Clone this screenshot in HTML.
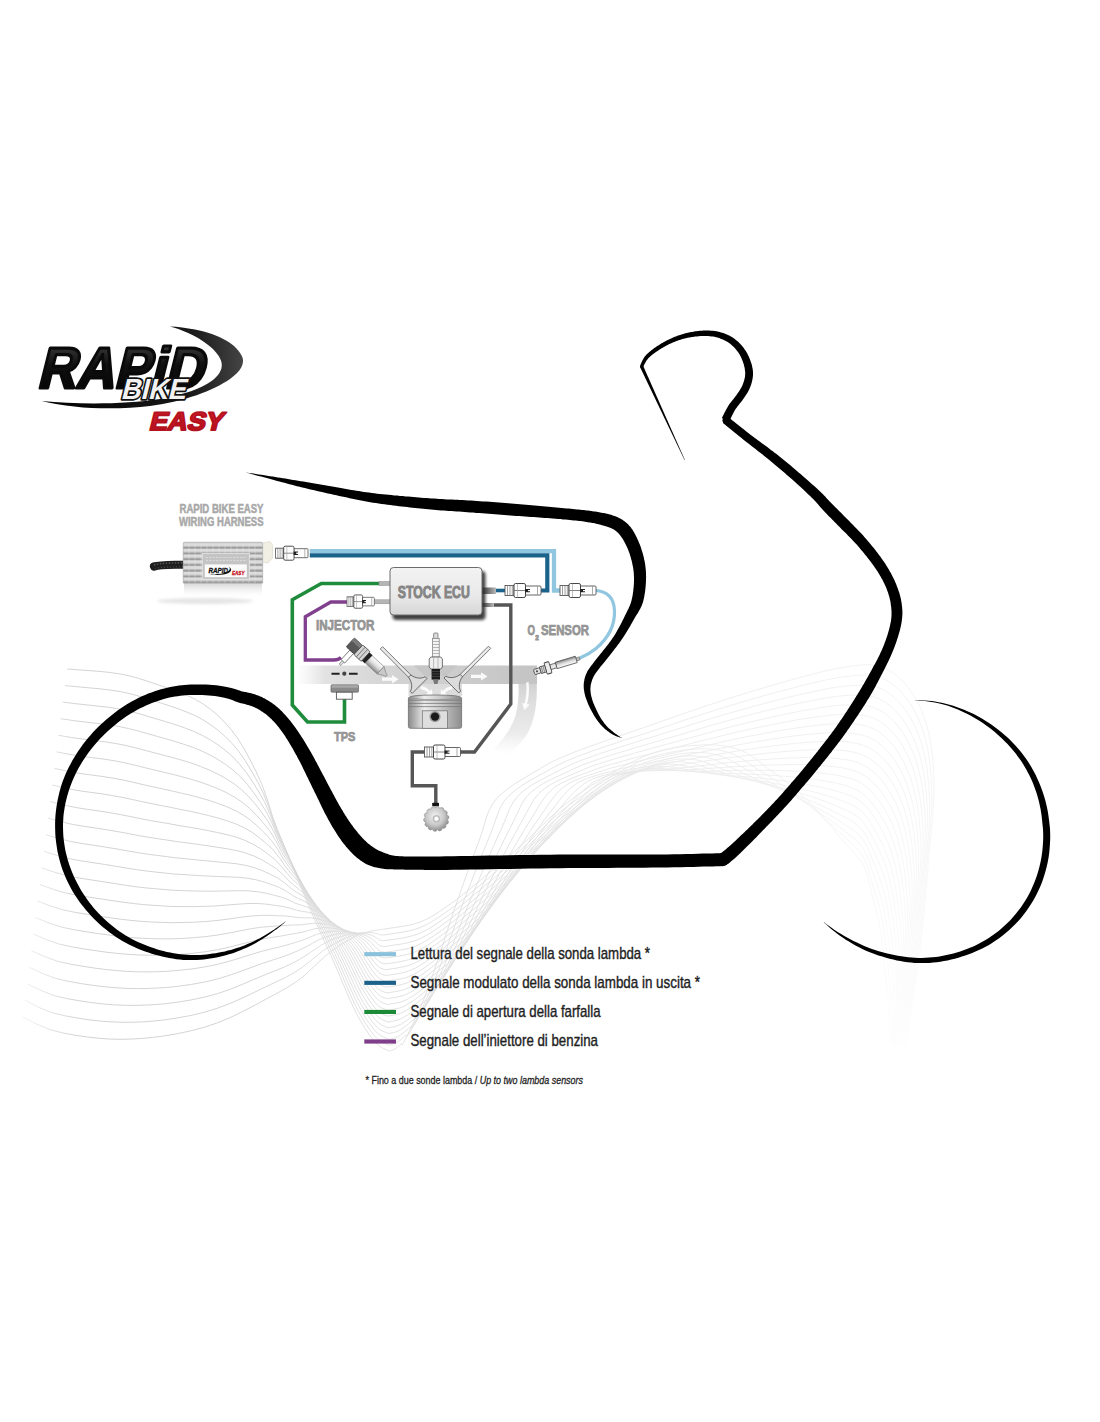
<!DOCTYPE html>
<html><head><meta charset="utf-8"><title>Rapid Bike Easy wiring</title>
<style>
html,body{margin:0;padding:0;background:#fff}
body{width:1100px;height:1422px;overflow:hidden;font-family:"Liberation Sans",sans-serif}
svg{display:block}
text{font-family:"Liberation Sans",sans-serif}
</style></head><body>
<svg width="1100" height="1422" viewBox="0 0 1100 1422">
<rect width="1100" height="1422" fill="#fff"/>
<defs><linearGradient id="wfade" gradientUnits="userSpaceOnUse" x1="0" y1="0" x2="1100" y2="0"><stop offset="0" stop-color="#fff" stop-opacity="1"/><stop offset="0.07" stop-color="#fff" stop-opacity="0"/><stop offset="0.227" stop-color="#fff" stop-opacity="0.04"/><stop offset="0.3" stop-color="#fff" stop-opacity="0.3"/><stop offset="0.45" stop-color="#fff" stop-opacity="0.36"/><stop offset="0.62" stop-color="#fff" stop-opacity="0.6"/><stop offset="1" stop-color="#fff" stop-opacity="0.85"/></linearGradient></defs>
<g fill="none" stroke="#cecece" stroke-width="0.9">
<path d="M67.0,669.0L79.0,669.9L90.6,670.7L101.8,671.6L112.6,672.8L123.2,674.5L133.3,676.8L143.2,679.8L152.7,683.0L161.9,686.1L170.8,689.1L179.4,692.2L187.7,695.6L195.7,699.5L203.4,704.2L210.8,709.5L218.0,715.6L224.9,722.4L231.6,730.2L238.1,739.0L244.3,749.0L250.2,759.9L256.0,771.4L261.5,783.5L266.9,798.2L272.0,814.8L277.0,828.5L281.8,840.1L286.4,851.1L290.8,862.0L295.1,872.7L299.3,883.0L303.3,892.9L307.1,902.2L310.9,911.0L314.5,919.3L318.0,927.1L321.4,934.7L324.7,941.9L327.9,949.0L331.1,955.9L334.1,962.8L337.2,969.7L340.1,976.6L343.0,983.5L345.9,990.4L348.7,997.0L351.5,1003.3L354.3,1009.2L357.0,1014.7L359.8,1019.7L362.6,1024.5L365.4,1028.9L368.2,1033.1L371.0,1037.0L373.9,1040.6L376.8,1043.9L379.7,1046.3L382.8,1048.1L385.8,1049.5L389.0,1051.0L389.3,1050.9L389.7,1050.8L390.2,1050.7L390.8,1050.5L391.3,1050.4L391.9,1050.2L392.5,1050.0L393.0,1049.8L393.5,1049.6L394.0,1049.3L394.5,1049.1L395.0,1048.8L395.5,1048.5L396.0,1048.2L396.5,1047.9L397.0,1047.5L397.5,1047.1L398.0,1046.7L398.5,1046.3L399.0,1045.9L399.5,1045.4L400.0,1044.9L400.5,1044.5L401.0,1044.0L401.4,1043.8L401.6,1044.1L401.7,1044.5L401.9,1044.8L402.2,1044.8L402.7,1044.2L403.6,1042.7L405.0,1040.0L406.9,1036.3L409.1,1031.7L411.7,1026.4L414.5,1020.4L417.6,1013.8L420.7,1006.6L423.9,999.0L427.0,991.0L430.2,982.2L433.6,972.5L437.0,962.1L440.6,951.2L444.2,940.2L447.7,929.3L451.2,918.8L454.5,909.0L457.8,899.6L461.0,890.4L464.3,881.3L467.4,872.4L470.5,863.9L473.5,855.8L476.3,848.1L479.0,841.0L481.3,834.5L483.1,828.6L484.7,823.1L486.2,818.1L487.9,813.3L489.9,808.8L492.3,804.4L495.5,800.0L499.4,795.7L504.0,791.7L509.1,787.8L514.5,784.1L520.0,780.6L525.6,777.2L530.9,774.0L536.0,771.0L540.5,768.3L544.7,765.8L548.6,763.7L552.5,761.6L556.7,759.6L561.3,757.5L566.7,755.3L573.0,752.7L580.4,749.8L588.6,746.8L597.6,743.6L607.0,740.3L616.8,736.9L626.5,733.5L636.2,730.2L645.5,727.0L654.6,723.8L663.6,720.6L672.7,717.4L681.7,714.3L690.8,711.1L699.8,708.0L708.9,705.0L718.0,702.0L727.2,699.0L736.6,696.1L746.2,693.1L755.6,690.2L765.0,687.5L774.0,684.8L782.8,682.3L791.0,680.0L798.8,677.9L806.3,675.8L813.6,673.9L820.5,672.1L827.2,670.5L833.6,669.1L839.7,667.9L845.5,667.0L851.0,666.2L856.1,665.5L860.9,665.0L865.4,664.8L869.7,664.7L873.9,665.1L878.0,665.8L882.0,667.0L886.0,668.7L889.8,670.7L893.6,673.2L897.2,676.0L900.6,679.1L903.9,682.5L907.0,686.2L910.0,690.0L912.8,694.1L915.5,698.4L918.0,703.1L920.4,708.0L922.6,713.1L924.6,718.5L926.4,724.1L928.0,730.0L929.4,736.1L930.6,742.4L931.6,749.0L932.4,755.8L933.1,762.9L933.6,770.2L933.9,777.7L934.0,785.5L933.9,793.4L933.6,801.5L933.1,809.8L932.4,818.3L931.7,827.1L930.8,836.3L929.9,845.9L929.0,856.0L928.1,866.7L927.2,878.1L926.2,889.9L925.1,902.0L924.0,914.4L922.7,926.7L921.4,939.0L920.0,951.0L918.4,963.4L916.4,976.8L914.3,990.5L912.2,1003.9L910.1,1016.7L908.2,1028.1L906.7,1037.8L905.5,1045.0"/>
<path d="M64.9,685.6L76.9,686.7L88.6,687.8L99.9,688.8L110.9,690.1L121.5,691.8L131.7,694.1L141.6,696.9L151.2,699.9L160.5,702.9L169.4,705.8L178.1,708.7L186.4,711.9L194.7,715.4L202.7,719.7L210.5,724.7L218.0,730.2L225.2,736.5L232.2,743.6L238.9,751.6L245.3,760.8L251.5,771.0L257.5,781.7L263.2,793.0L268.7,806.6L273.9,822.2L279.0,834.9L283.8,845.7L288.5,855.9L293.0,866.1L297.3,876.2L301.4,885.8L305.4,895.1L309.3,903.9L313.0,912.2L316.6,920.0L320.0,927.4L323.4,934.6L326.7,941.5L329.8,948.2L332.9,954.8L335.9,961.3L338.8,967.8L341.7,974.4L344.5,981.0L347.3,987.5L350.0,993.8L352.7,999.8L355.4,1005.4L358.1,1010.6L360.7,1015.4L363.4,1020.0L366.0,1024.2L368.7,1028.2L371.4,1031.9L374.2,1035.4L377.0,1038.4L379.8,1040.7L382.7,1042.4L385.7,1043.8L388.8,1045.2L389.2,1045.1L389.8,1045.0L390.5,1044.8L391.2,1044.6L392.0,1044.5L392.8,1044.2L393.6,1044.0L394.3,1043.7L395.0,1043.4L395.6,1043.1L396.3,1042.8L396.9,1042.4L397.6,1042.0L398.3,1041.6L398.9,1041.1L399.6,1040.6L400.3,1040.1L401.0,1039.5L401.8,1038.9L402.5,1038.3L403.2,1037.7L403.9,1037.0L404.7,1036.4L405.4,1035.7L405.9,1035.4L406.3,1035.4L406.6,1035.7L407.0,1035.8L407.5,1035.6L408.2,1034.9L409.3,1033.2L410.8,1030.5L412.8,1026.7L415.2,1022.1L417.9,1016.8L420.9,1010.8L424.1,1004.2L427.4,997.2L430.7,989.6L434.0,981.8L437.4,973.2L441.1,963.6L444.8,953.4L448.6,942.8L452.5,932.0L456.3,921.4L460.0,911.2L463.6,901.7L467.0,892.7L470.5,883.7L473.9,875.0L477.3,866.5L480.6,858.3L483.7,850.5L486.7,843.2L489.5,836.4L492.0,830.2L494.0,824.6L495.8,819.4L497.5,814.6L499.3,810.1L501.4,805.8L503.9,801.7L507.1,797.6L511.1,793.6L515.7,789.9L520.7,786.3L526.0,782.9L531.4,779.7L536.9,776.6L542.2,773.7L547.1,771.0L551.6,768.4L555.7,766.2L559.5,764.3L563.4,762.4L567.5,760.6L572.0,758.7L577.3,756.6L583.4,754.3L590.5,751.6L598.5,748.8L607.1,745.9L616.3,742.8L625.6,739.7L635.1,736.6L644.4,733.6L653.3,730.6L662.1,727.7L670.8,724.8L679.5,721.8L688.2,718.9L697.0,716.1L705.7,713.2L714.4,710.4L723.2,707.7L732.1,705.0L741.2,702.3L750.3,699.6L759.4,697.0L768.4,694.5L777.2,692.1L785.6,689.8L793.6,687.8L801.1,685.8L808.4,684.0L815.4,682.3L822.2,680.8L828.6,679.4L834.8,678.2L840.7,677.2L846.4,676.5L851.7,675.9L856.6,675.4L861.2,675.1L865.6,675.0L869.7,675.2L873.7,675.7L877.6,676.5L881.5,677.9L885.4,679.6L889.1,681.8L892.7,684.3L896.2,687.2L899.5,690.3L902.7,693.8L905.7,697.4L908.6,701.3L911.3,705.4L913.9,709.7L916.3,714.3L918.6,719.2L920.7,724.3L922.6,729.6L924.4,735.2L925.9,741.0L927.3,747.0L928.4,753.3L929.4,759.8L930.2,766.5L930.9,773.5L931.3,780.7L931.7,788.0L931.8,795.6L931.8,803.3L931.5,811.1L931.0,819.1L930.4,827.3L929.6,835.8L928.8,844.6L927.9,853.9L927.1,863.6L926.2,873.9L925.4,884.8L924.4,896.1L923.4,907.8L922.3,919.6L921.2,931.5L919.9,943.2L918.6,954.8L917.0,966.7L915.2,979.5L913.2,992.6L911.2,1005.6L909.2,1017.8L907.4,1028.8L905.9,1038.0L904.8,1045.0"/>
<path d="M62.8,702.1L74.9,703.6L86.7,704.9L98.1,706.1L109.1,707.3L119.8,709.1L130.1,711.3L140.1,714.0L149.7,716.9L159.1,719.7L168.1,722.4L176.8,725.1L185.2,728.1L193.7,731.4L202.1,735.3L210.2,739.8L218.0,744.8L225.5,750.5L232.8,756.9L239.7,764.3L246.4,772.7L252.8,782.1L258.9,792.0L264.8,802.4L270.4,815.1L275.8,829.5L280.9,841.3L285.9,851.2L290.6,860.7L295.1,870.2L299.4,879.6L303.6,888.7L307.6,897.4L311.4,905.6L315.1,913.4L318.7,920.8L322.1,927.8L325.4,934.5L328.6,941.0L331.7,947.4L334.7,953.6L337.7,959.8L340.5,966.0L343.3,972.2L346.0,978.5L348.7,984.6L351.4,990.6L354.0,996.3L356.5,1001.7L359.1,1006.6L361.6,1011.2L364.2,1015.4L366.7,1019.5L369.3,1023.2L371.9,1026.8L374.5,1030.1L377.2,1033.0L379.9,1035.1L382.7,1036.8L385.6,1038.1L388.6,1039.4L389.2,1039.3L389.9,1039.1L390.7,1038.9L391.7,1038.7L392.7,1038.5L393.7,1038.3L394.7,1038.0L395.6,1037.6L396.4,1037.3L397.2,1036.9L398.0,1036.4L398.9,1036.0L399.7,1035.5L400.5,1034.9L401.3,1034.4L402.2,1033.7L403.1,1033.1L404.1,1032.3L405.0,1031.6L406.0,1030.7L406.9,1029.9L407.9,1029.1L408.8,1028.2L409.7,1027.4L410.5,1026.9L411.1,1026.8L411.6,1026.9L412.1,1026.8L412.8,1026.5L413.7,1025.5L414.9,1023.8L416.6,1021.0L418.8,1017.1L421.3,1012.5L424.2,1007.2L427.3,1001.2L430.6,994.7L434.0,987.7L437.5,980.3L441.1,972.5L444.7,964.1L448.5,954.7L452.6,944.7L456.7,934.4L460.8,923.9L464.9,913.6L468.8,903.7L472.6,894.4L476.3,885.7L480.0,877.1L483.6,868.7L487.1,860.6L490.6,852.7L493.9,845.3L497.1,838.3L500.0,831.9L502.7,826.0L504.9,820.6L506.8,815.7L508.7,811.2L510.6,806.9L512.8,802.9L515.5,799.1L518.8,795.2L522.8,791.5L527.3,788.1L532.3,784.8L537.5,781.7L542.9,778.8L548.2,776.0L553.4,773.4L558.3,770.9L562.7,768.6L566.7,766.6L570.5,764.9L574.3,763.2L578.3,761.5L582.7,759.8L587.8,758.0L593.8,755.8L600.7,753.4L608.4,750.9L616.7,748.2L625.5,745.4L634.5,742.6L643.6,739.7L652.5,736.9L661.2,734.2L669.6,731.6L678.0,728.9L686.4,726.3L694.8,723.6L703.1,721.0L711.5,718.4L720.0,715.9L728.4,713.4L736.9,711.0L745.7,708.6L754.5,706.1L763.3,703.8L771.9,701.5L780.4,699.3L788.5,697.3L796.1,695.5L803.4,693.8L810.5,692.2L817.3,690.8L823.8,689.4L830.1,688.2L836.1,687.2L841.8,686.5L847.2,685.9L852.3,685.5L857.1,685.2L861.5,685.1L865.7,685.2L869.7,685.6L873.5,686.2L877.3,687.3L881.0,688.7L884.7,690.6L888.3,692.8L891.8,695.4L895.2,698.4L898.4,701.6L901.5,705.0L904.4,708.7L907.1,712.6L909.8,716.6L912.2,721.0L914.6,725.6L916.7,730.4L918.8,735.4L920.6,740.7L922.3,746.2L923.8,751.9L925.1,757.9L926.3,764.1L927.2,770.5L928.0,777.2L928.7,784.1L929.1,791.1L929.5,798.4L929.6,805.7L929.6,813.2L929.3,820.8L928.9,828.5L928.3,836.3L927.6,844.5L926.8,853.0L926.0,861.8L925.2,871.1L924.4,881.0L923.5,891.5L922.7,902.3L921.7,913.5L920.7,924.9L919.6,936.2L918.4,947.5L917.1,958.5L915.7,970.0L913.9,982.2L912.1,994.8L910.1,1007.2L908.3,1018.9L906.6,1029.5L905.2,1038.3L904.1,1045.0"/>
<path d="M60.7,718.7L72.9,720.5L84.7,722.0L96.2,723.3L107.3,724.6L118.0,726.3L128.4,728.5L138.5,731.1L148.2,733.9L157.7,736.5L166.7,739.0L175.5,741.6L184.0,744.3L192.8,747.3L201.4,750.9L209.8,754.9L218.0,759.5L225.8,764.6L233.3,770.3L240.6,776.9L247.5,784.6L254.1,793.2L260.4,802.4L266.4,811.9L272.2,823.6L277.7,836.8L282.9,847.6L287.9,856.8L292.7,865.5L297.2,874.3L301.6,883.1L305.7,891.5L309.7,899.6L313.6,907.3L317.2,914.6L320.8,921.5L324.2,928.1L327.4,934.4L330.6,940.6L333.6,946.6L336.6,952.5L339.4,958.3L342.2,964.1L344.9,970.0L347.6,975.9L350.2,981.8L352.7,987.4L355.2,992.8L357.7,997.9L360.1,1002.5L362.5,1006.9L365.0,1010.9L367.4,1014.7L369.9,1018.3L372.3,1021.7L374.8,1024.8L377.4,1027.5L380.0,1029.6L382.7,1031.1L385.5,1032.3L388.4,1033.6L389.1,1033.4L390.0,1033.3L391.0,1033.1L392.1,1032.9L393.4,1032.6L394.6,1032.3L395.8,1031.9L396.9,1031.5L397.9,1031.1L398.9,1030.6L399.8,1030.1L400.8,1029.6L401.8,1029.0L402.8,1028.3L403.8,1027.6L404.8,1026.9L405.9,1026.0L407.1,1025.1L408.3,1024.2L409.4,1023.2L410.6,1022.2L411.8,1021.1L413.0,1020.1L414.1,1019.1L415.1,1018.5L415.8,1018.2L416.5,1018.0L417.2,1017.8L418.1,1017.3L419.2,1016.2L420.6,1014.3L422.4,1011.4L424.8,1007.5L427.4,1002.9L430.4,997.6L433.7,991.6L437.1,985.2L440.7,978.2L444.4,970.9L448.1,963.3L451.9,955.0L456.0,945.8L460.3,936.1L464.7,925.9L469.1,915.7L473.5,905.7L477.7,896.1L481.7,887.1L485.6,878.7L489.5,870.4L493.3,862.4L497.0,854.6L500.6,847.2L504.1,840.1L507.4,833.4L510.6,827.3L513.4,821.7L515.7,816.6L517.8,812.0L519.9,807.7L522.0,803.7L524.3,800.0L527.1,796.4L530.4,792.9L534.4,789.5L538.9,786.3L543.8,783.3L549.0,780.5L554.3,777.9L559.5,775.5L564.6,773.1L569.4,770.9L573.8,768.8L577.7,767.0L581.4,765.4L585.2,764.0L589.1,762.5L593.4,761.0L598.4,759.3L604.1,757.4L610.8,755.2L618.2,752.9L626.3,750.5L634.7,747.9L643.4,745.4L652.1,742.8L660.7,740.3L669.0,737.9L677.1,735.5L685.1,733.1L693.2,730.7L701.3,728.3L709.3,725.9L717.4,723.6L725.5,721.3L733.6,719.1L741.8,717.0L750.2,714.8L758.7,712.6L767.1,710.5L775.4,708.5L783.5,706.6L791.3,704.9L798.7,703.3L805.8,701.8L812.6,700.5L819.1,699.2L825.4,698.1L831.5,697.1L837.3,696.3L842.8,695.7L848.1,695.4L853.0,695.2L857.6,695.1L861.8,695.2L865.8,695.5L869.7,696.0L873.4,696.8L877.0,698.0L880.6,699.6L884.1,701.5L887.6,703.9L890.9,706.6L894.2,709.5L897.3,712.8L900.2,716.3L903.1,720.0L905.7,723.9L908.2,727.9L910.6,732.2L912.8,736.8L914.9,741.6L916.9,746.6L918.7,751.8L920.3,757.2L921.7,762.9L923.0,768.7L924.1,774.9L925.0,781.3L925.8,787.9L926.5,794.6L926.9,801.6L927.3,808.7L927.4,815.9L927.4,823.1L927.2,830.4L926.7,837.8L926.2,845.4L925.5,853.2L924.8,861.3L924.0,869.8L923.3,878.7L922.5,888.2L921.7,898.2L920.9,908.6L920.0,919.3L919.0,930.1L918.0,941.0L916.9,951.7L915.7,962.3L914.3,973.2L912.7,985.0L910.9,997.0L909.1,1008.9L907.3,1020.1L905.7,1030.2L904.4,1038.6L903.4,1045.0"/>
<path d="M58.6,735.3L70.9,737.4L82.8,739.1L94.3,740.5L105.5,741.9L116.3,743.6L126.8,745.7L137.0,748.2L146.8,750.8L156.2,753.3L165.4,755.7L174.3,758.0L182.8,760.5L191.8,763.2L200.7,766.5L209.5,770.1L217.9,774.1L226.1,778.6L233.9,783.7L241.4,789.6L248.6,796.5L255.4,804.3L261.9,812.7L268.1,821.3L274.0,832.0L279.5,844.2L284.9,854.0L289.9,862.3L294.8,870.3L299.3,878.4L303.7,886.5L307.9,894.3L311.9,901.9L315.7,909.0L319.3,915.8L322.8,922.2L326.2,928.4L329.4,934.3L332.5,940.1L335.5,945.8L338.4,951.3L341.2,956.8L343.9,962.3L346.5,967.9L349.1,973.4L351.6,978.9L354.0,984.2L356.4,989.3L358.8,994.1L361.1,998.5L363.4,1002.6L365.8,1006.4L368.1,1010.0L370.4,1013.4L372.8,1016.5L375.2,1019.5L377.6,1022.1L380.1,1024.0L382.7,1025.5L385.4,1026.6L388.2,1027.8L389.0,1027.6L390.0,1027.4L391.3,1027.2L392.6,1027.0L394.0,1026.7L395.5,1026.3L396.9,1025.9L398.1,1025.5L399.3,1024.9L400.5,1024.4L401.6,1023.8L402.7,1023.1L403.9,1022.4L405.0,1021.7L406.2,1020.9L407.4,1020.0L408.7,1019.0L410.1,1017.9L411.5,1016.8L412.9,1015.6L414.3,1014.4L415.8,1013.2L417.1,1012.0L418.5,1010.9L419.6,1010.0L420.6,1009.5L421.5,1009.2L422.4,1008.8L423.4,1008.1L424.6,1006.9L426.2,1004.9L428.2,1001.9L430.7,998.0L433.5,993.3L436.7,988.0L440.1,982.1L443.6,975.6L447.4,968.8L451.2,961.6L455.1,954.0L459.2,945.9L463.5,937.0L468.1,927.4L472.7,917.5L477.4,907.6L482.0,897.8L486.5,888.5L490.8,879.9L494.9,871.7L499.0,863.8L503.0,856.1L506.9,848.7L510.6,841.6L514.3,834.8L517.8,828.5L521.1,822.7L524.0,817.4L526.6,812.6L528.9,808.2L531.1,804.3L533.3,800.6L535.8,797.1L538.7,793.7L542.1,790.5L546.1,787.4L550.6,784.5L555.4,781.8L560.5,779.4L565.7,777.1L570.9,774.9L575.9,772.8L580.6,770.8L584.8,769.0L588.7,767.4L592.4,766.0L596.1,764.7L599.9,763.5L604.1,762.1L609.0,760.6L614.5,758.9L621.0,757.0L628.1,755.0L635.8,752.8L643.9,750.5L652.2,748.2L660.6,745.9L668.9,743.7L676.8,741.5L684.6,739.3L692.3,737.2L700.1,735.1L707.8,732.9L715.5,730.8L723.2,728.8L731.0,726.8L738.8,724.9L746.7,722.9L754.7,721.0L762.8,719.1L770.9,717.3L778.9,715.5L786.7,713.9L794.2,712.4L801.3,711.0L808.1,709.8L814.6,708.7L821.0,707.6L827.1,706.7L832.9,705.9L838.5,705.4L843.9,705.0L848.9,704.8L853.7,704.8L858.1,704.9L862.1,705.2L866.0,705.7L869.7,706.4L873.2,707.4L876.6,708.7L880.1,710.4L883.5,712.5L886.8,714.9L890.1,717.7L893.2,720.7L896.2,724.0L899.0,727.5L901.7,731.3L904.3,735.1L906.7,739.2L909.0,743.5L911.1,748.0L913.1,752.8L915.0,757.7L916.7,762.9L918.2,768.2L919.6,773.8L920.9,779.6L921.9,785.7L922.9,792.0L923.6,798.5L924.3,805.2L924.7,812.0L925.1,819.0L925.2,826.0L925.2,833.0L925.0,840.0L924.6,847.1L924.1,854.4L923.5,861.9L922.8,869.6L922.1,877.8L921.4,886.3L920.7,895.3L919.9,904.9L919.2,914.8L918.3,925.0L917.4,935.3L916.4,945.7L915.4,956.0L914.3,966.0L913.0,976.5L911.4,987.7L909.8,999.2L908.1,1010.5L906.4,1021.2L904.9,1030.8L903.7,1038.9L902.7,1045.0"/>
<path d="M56.5,751.9L68.9,754.2L80.9,756.2L92.5,757.7L103.7,759.1L114.6,760.8L125.2,762.9L135.4,765.3L145.3,767.8L154.8,770.1L164.1,772.3L173.0,774.4L181.6,776.7L190.8,779.2L200.1,782.0L209.1,785.2L217.9,788.7L226.4,792.6L234.5,797.1L242.2,802.2L249.6,808.4L256.7,815.4L263.4,823.0L269.7,830.8L275.7,840.5L281.4,851.5L286.8,860.4L292.0,867.9L296.8,875.1L301.5,882.6L305.9,889.9L310.1,897.2L314.0,904.1L317.8,910.7L321.5,917.0L324.9,923.0L328.3,928.7L331.4,934.2L334.5,939.6L337.4,944.9L340.2,950.1L343.0,955.3L345.6,960.4L348.1,965.7L350.6,970.9L353.0,976.0L355.4,981.0L357.7,985.8L359.9,990.3L362.1,994.5L364.4,998.3L366.6,1001.9L368.8,1005.3L371.0,1008.5L373.2,1011.4L375.5,1014.2L377.8,1016.6L380.2,1018.4L382.7,1019.8L385.3,1020.9L388.0,1022.0L388.9,1021.8L390.1,1021.6L391.5,1021.3L393.1,1021.1L394.7,1020.7L396.4,1020.3L398.0,1019.9L399.4,1019.4L400.8,1018.8L402.1,1018.2L403.4,1017.5L404.7,1016.7L405.9,1015.9L407.3,1015.0L408.6,1014.1L410.0,1013.1L411.6,1012.0L413.1,1010.8L414.8,1009.4L416.4,1008.1L418.1,1006.7L419.7,1005.3L421.3,1003.9L422.8,1002.6L424.2,1001.5L425.4,1000.9L426.4,1000.4L427.5,999.8L428.7,998.9L430.1,997.5L431.8,995.4L434.0,992.4L436.7,988.4L439.7,983.7L442.9,978.4L446.4,972.5L450.2,966.1L454.0,959.3L458.1,952.2L462.1,944.8L466.4,936.8L471.0,928.1L475.8,918.7L480.8,909.1L485.7,899.4L490.6,890.0L495.4,880.9L499.9,872.6L504.2,864.7L508.4,857.1L512.6,849.8L516.7,842.7L520.7,836.0L524.5,829.6L528.2,823.7L531.6,818.1L534.7,813.1L537.4,808.6L539.9,804.5L542.3,800.8L544.7,797.4L547.3,794.1L550.3,791.1L553.7,788.1L557.7,785.3L562.2,782.7L567.0,780.4L572.0,778.2L577.1,776.2L582.2,774.3L587.1,772.5L591.7,770.8L595.9,769.2L599.7,767.8L603.3,766.6L606.9,765.5L610.7,764.4L614.9,763.3L619.5,762.0L624.9,760.5L631.1,758.8L638.0,757.0L645.4,755.1L653.2,753.1L661.1,751.0L669.1,749.0L677.0,747.0L684.7,745.1L692.1,743.2L699.5,741.3L706.9,739.5L714.3,737.6L721.7,735.8L729.1,734.0L736.5,732.2L744.0,730.6L751.5,728.9L759.2,727.3L767.0,725.6L774.7,724.1L782.4,722.6L789.8,721.2L797.0,719.9L803.9,718.8L810.4,717.8L816.7,716.9L822.8,716.1L828.7,715.4L834.4,714.8L839.8,714.4L844.9,714.2L849.8,714.3L854.4,714.5L858.6,714.8L862.5,715.3L866.1,715.9L869.6,716.8L873.0,718.0L876.3,719.5L879.6,721.3L882.9,723.5L886.1,726.0L889.2,728.8L892.2,731.9L895.1,735.2L897.8,738.8L900.4,742.5L902.9,746.4L905.2,750.5L907.3,754.8L909.4,759.3L911.3,764.0L913.1,768.9L914.7,774.0L916.2,779.3L917.5,784.8L918.7,790.5L919.8,796.5L920.7,802.8L921.4,809.2L922.0,815.8L922.5,822.5L922.9,829.3L923.0,836.1L923.1,842.9L922.9,849.7L922.5,856.5L922.0,863.4L921.4,870.6L920.8,878.0L920.1,885.7L919.5,893.9L918.8,902.5L918.1,911.6L917.4,921.0L916.6,930.7L915.8,940.6L914.9,950.4L913.9,960.2L912.9,969.8L911.6,979.8L910.2,990.4L908.6,1001.4L907.0,1012.2L905.5,1022.3L904.1,1031.5L902.9,1039.2L902.0,1045.0"/>
<path d="M54.4,768.4L66.9,771.1L78.9,773.3L90.6,774.9L102.0,776.4L112.9,778.1L123.6,780.1L133.8,782.4L143.8,784.8L153.4,786.9L162.7,788.9L171.7,790.9L180.4,792.9L189.9,795.1L199.4,797.6L208.8,800.3L217.9,803.4L226.7,806.7L235.1,810.4L243.1,814.9L250.7,820.3L257.9,826.5L264.8,833.3L271.3,840.3L277.5,848.9L283.3,858.9L288.8,866.8L294.0,873.4L298.9,879.9L303.6,886.7L308.0,893.4L312.2,900.0L316.2,906.4L320.0,912.5L323.6,918.2L327.0,923.7L330.3,929.0L333.4,934.2L336.4,939.2L339.3,944.1L342.1,949.0L344.7,953.8L347.3,958.6L349.8,963.5L352.1,968.4L354.5,973.2L356.7,977.9L358.9,982.3L361.0,986.6L363.2,990.4L365.3,994.0L367.4,997.4L369.4,1000.6L371.5,1003.5L373.7,1006.3L375.8,1008.9L378.0,1011.2L380.3,1012.9L382.7,1014.2L385.2,1015.2L387.9,1016.1L388.9,1016.0L390.2,1015.7L391.8,1015.5L393.5,1015.2L395.4,1014.8L397.3,1014.4L399.1,1013.9L400.7,1013.3L402.2,1012.6L403.7,1011.9L405.1,1011.2L406.6,1010.3L408.0,1009.4L409.5,1008.4L411.0,1007.4L412.7,1006.2L414.4,1005.0L416.2,1003.6L418.0,1002.1L419.9,1000.5L421.8,998.9L423.6,997.3L425.5,995.8L427.2,994.3L428.8,993.1L430.1,992.2L431.4,991.5L432.6,990.8L434.0,989.7L435.6,988.2L437.5,986.0L439.9,982.9L442.7,978.8L445.8,974.1L449.2,968.8L452.8,962.9L456.7,956.6L460.7,949.9L464.9,942.8L469.2,935.6L473.7,927.8L478.5,919.2L483.6,910.1L488.8,900.7L494.0,891.3L499.2,882.1L504.2,873.3L508.9,865.3L513.5,857.8L517.9,850.5L522.3,843.5L526.6,836.8L530.7,830.4L534.7,824.4L538.5,818.8L542.1,813.6L545.4,808.9L548.3,804.6L551.0,800.8L553.5,797.3L556.0,794.2L558.8,791.2L561.8,788.4L565.4,785.7L569.4,783.2L573.8,780.9L578.6,778.9L583.5,777.0L588.5,775.3L593.5,773.7L598.3,772.2L602.9,770.7L607.0,769.4L610.7,768.2L614.3,767.2L617.8,766.3L621.5,765.4L625.6,764.4L630.1,763.3L635.3,762.1L641.3,760.6L647.9,759.0L655.0,757.4L662.4,755.6L670.0,753.9L677.7,752.1L685.2,750.4L692.5,748.7L699.6,747.1L706.7,745.5L713.8,743.9L720.8,742.3L727.9,740.7L735.0,739.2L742.0,737.7L749.1,736.3L756.4,734.9L763.7,733.5L771.2,732.1L778.6,730.8L785.9,729.6L793.0,728.5L799.9,727.4L806.4,726.6L812.7,725.8L818.8,725.1L824.7,724.5L830.4,724.0L835.8,723.7L841.0,723.5L846.0,723.5L850.7,723.7L855.0,724.1L859.0,724.6L862.8,725.3L866.3,726.2L869.6,727.2L872.8,728.6L876.0,730.2L879.1,732.1L882.3,734.4L885.3,737.0L888.3,739.9L891.2,743.1L894.0,746.5L896.6,750.0L899.1,753.8L901.4,757.7L903.6,761.8L905.7,766.0L907.7,770.5L909.5,775.2L911.2,780.0L912.7,785.0L914.1,790.3L915.4,795.7L916.6,801.4L917.6,807.3L918.5,813.5L919.2,819.9L919.8,826.4L920.3,833.0L920.7,839.6L920.9,846.2L920.9,852.8L920.7,859.3L920.4,865.8L919.9,872.5L919.4,879.3L918.8,886.3L918.2,893.7L917.6,901.4L917.0,909.6L916.3,918.3L915.6,927.3L914.9,936.5L914.1,945.8L913.3,955.2L912.4,964.5L911.4,973.6L910.3,983.0L909.0,993.2L907.5,1003.5L906.0,1013.8L904.6,1023.5L903.3,1032.2L902.2,1039.5L901.4,1045.0"/>
<path d="M52.3,785.0L64.9,788.0L77.0,790.4L88.8,792.1L100.2,793.6L111.2,795.4L121.9,797.3L132.3,799.5L142.3,801.7L152.0,803.7L161.4,805.6L170.4,807.3L179.2,809.2L188.9,811.0L198.8,813.2L208.5,815.5L217.9,818.0L226.9,820.7L235.6,823.8L243.9,827.6L251.8,832.2L259.2,837.6L266.3,843.6L273.0,849.7L279.2,857.4L285.2,866.2L290.8,873.1L296.0,879.0L301.0,884.7L305.7,890.8L310.2,896.8L314.4,902.8L318.3,908.6L322.1,914.2L325.7,919.4L329.1,924.5L332.4,929.3L335.5,934.1L338.4,938.7L341.2,943.3L343.9,947.8L346.5,952.3L349.0,956.7L351.4,961.3L353.7,965.8L355.9,970.3L358.0,974.7L360.1,978.9L362.2,982.8L364.2,986.4L366.2,989.7L368.2,992.9L370.1,995.8L372.1,998.6L374.1,1001.2L376.2,1003.6L378.3,1005.7L380.4,1007.3L382.7,1008.5L385.1,1009.4L387.7,1010.3L388.8,1010.1L390.3,1009.9L392.0,1009.6L394.0,1009.3L396.1,1008.9L398.2,1008.4L400.2,1007.8L402.0,1007.2L403.7,1006.5L405.3,1005.7L406.9,1004.8L408.5,1003.9L410.1,1002.9L411.8,1001.8L413.5,1000.6L415.3,999.3L417.2,997.9L419.2,996.4L421.3,994.7L423.4,993.0L425.5,991.2L427.6,989.4L429.6,987.7L431.6,986.0L433.3,984.6L434.9,983.6L436.3,982.7L437.7,981.8L439.3,980.6L441.0,978.9L443.1,976.6L445.7,973.3L448.6,969.2L451.9,964.5L455.4,959.2L459.2,953.3L463.2,947.0L467.4,940.4L471.7,933.5L476.2,926.3L480.9,918.7L486.0,910.3L491.4,901.4L496.8,892.3L502.4,883.1L507.8,874.2L513.0,865.8L518.0,858.0L522.7,850.8L527.4,843.8L532.0,837.2L536.4,830.8L540.7,824.8L544.9,819.2L548.9,813.9L552.7,809.0L556.1,804.6L559.2,800.6L562.0,797.1L564.7,793.9L567.4,791.0L570.3,788.3L573.4,785.8L577.0,783.3L581.1,781.1L585.5,779.1L590.2,777.4L595.0,775.8L600.0,774.4L604.8,773.1L609.5,771.9L614.0,770.7L618.1,769.5L621.8,768.6L625.3,767.8L628.7,767.1L632.3,766.3L636.3,765.6L640.6,764.7L645.7,763.6L651.4,762.4L657.7,761.1L664.5,759.7L671.6,758.2L678.9,756.7L686.2,755.2L693.4,753.7L700.3,752.3L707.1,751.0L713.9,749.6L720.6,748.3L727.3,746.9L734.1,745.6L740.8,744.4L747.6,743.2L754.3,742.0L761.2,740.9L768.2,739.7L775.3,738.6L782.4,737.6L789.4,736.6L796.2,735.7L802.7,735.0L809.0,734.3L815.0,733.8L820.8,733.3L826.5,732.9L832.0,732.7L837.2,732.5L842.3,732.5L847.0,732.7L851.5,733.2L855.7,733.8L859.5,734.5L863.1,735.3L866.4,736.4L869.6,737.6L872.7,739.1L875.7,740.9L878.7,743.0L881.7,745.4L884.6,748.1L887.4,751.1L890.2,754.3L892.8,757.7L895.4,761.3L897.8,765.1L900.0,769.0L902.1,773.1L904.1,777.3L905.9,781.7L907.7,786.4L909.3,791.2L910.8,796.1L912.1,801.3L913.3,806.7L914.4,812.3L915.4,818.2L916.3,824.3L917.0,830.6L917.6,837.0L918.1,843.4L918.5,849.9L918.7,856.3L918.7,862.7L918.6,868.9L918.3,875.2L917.9,881.5L917.4,888.0L916.8,894.7L916.2,901.6L915.7,909.0L915.1,916.8L914.5,925.0L913.9,933.5L913.2,942.2L912.5,951.1L911.7,959.9L910.9,968.7L910.0,977.3L908.9,986.3L907.7,995.9L906.4,1005.7L905.0,1015.4L903.6,1024.6L902.4,1032.9L901.4,1039.8L900.7,1045.0"/>
<path d="M50.2,801.6L62.8,804.8L75.1,807.4L86.9,809.3L98.4,810.9L109.5,812.6L120.3,814.6L130.7,816.6L140.8,818.7L150.6,820.6L160.0,822.2L169.1,823.7L178.0,825.4L187.9,827.0L198.1,828.7L208.1,830.6L217.9,832.6L227.2,834.7L236.2,837.2L244.7,840.2L252.8,844.1L260.5,848.7L267.8,853.9L274.6,859.2L281.0,865.8L287.1,873.5L292.7,879.5L298.1,884.5L303.1,889.5L307.8,894.9L312.3,900.3L316.5,905.6L320.5,910.8L324.3,915.9L327.8,920.6L331.2,925.2L334.4,929.7L337.5,934.0L340.4,938.3L343.1,942.5L345.8,946.6L348.3,950.8L350.7,954.9L353.0,959.1L355.2,963.3L357.3,967.4L359.4,971.5L361.4,975.4L363.3,979.0L365.2,982.3L367.1,985.5L369.0,988.4L370.8,991.1L372.7,993.7L374.6,996.1L376.5,998.3L378.5,1000.3L380.5,1001.8L382.7,1002.8L385.0,1003.7L387.5,1004.5L388.7,1004.3L390.3,1004.0L392.3,1003.7L394.5,1003.4L396.8,1002.9L399.0,1002.4L401.3,1001.8L403.3,1001.1L405.1,1000.3L406.9,999.5L408.7,998.5L410.4,997.5L412.2,996.4L414.0,995.2L415.9,993.9L417.9,992.5L420.0,990.9L422.2,989.2L424.5,987.3L426.8,985.4L429.2,983.4L431.5,981.5L433.8,979.6L435.9,977.7L437.9,976.2L439.6,974.9L441.2,973.9L442.8,972.8L444.6,971.4L446.5,969.6L448.8,967.1L451.5,963.8L454.6,959.7L458.0,954.9L461.7,949.6L465.6,943.7L469.7,937.5L474.1,930.9L478.6,924.1L483.2,917.1L488.2,909.6L493.5,901.4L499.1,892.8L504.9,883.9L510.7,875.0L516.4,866.4L521.9,858.2L527.1,850.7L532.0,843.8L536.9,837.2L541.7,830.9L546.3,824.9L550.8,819.2L555.1,813.9L559.2,809.0L563.2,804.4L566.8,800.3L570.0,796.6L573.0,793.4L575.9,790.4L578.8,787.8L581.8,785.4L585.0,783.1L588.6,781.0L592.7,779.0L597.1,777.3L601.8,775.9L606.6,774.7L611.4,773.6L616.2,772.5L620.8,771.6L625.1,770.6L629.1,769.7L632.8,769.0L636.2,768.4L639.6,767.8L643.2,767.3L647.0,766.7L651.2,766.0L656.0,765.2L661.6,764.2L667.6,763.1L674.1,762.0L680.8,760.7L687.7,759.5L694.7,758.3L701.5,757.1L708.2,756.0L714.6,754.9L721.0,753.8L727.5,752.7L733.8,751.6L740.2,750.6L746.7,749.6L753.1,748.6L759.5,747.7L766.1,746.8L772.8,746.0L779.5,745.1L786.2,744.4L792.8,743.6L799.3,743.0L805.6,742.5L811.6,742.1L817.3,741.8L822.9,741.5L828.4,741.4L833.6,741.3L838.7,741.4L843.5,741.6L848.1,742.0L852.4,742.6L856.4,743.4L860.0,744.3L863.4,745.4L866.6,746.6L869.6,748.1L872.5,749.7L875.3,751.7L878.2,753.9L881.0,756.4L883.8,759.1L886.6,762.2L889.2,765.4L891.7,768.9L894.1,772.6L896.4,776.4L898.6,780.3L900.6,784.4L902.5,788.6L904.2,793.0L905.9,797.6L907.4,802.3L908.8,807.2L910.1,812.3L911.2,817.6L912.3,823.2L913.3,829.0L914.1,835.0L914.8,841.2L915.4,847.5L915.9,853.9L916.3,860.2L916.5,866.5L916.5,872.6L916.4,878.6L916.1,884.5L915.8,890.5L915.3,896.7L914.8,903.0L914.3,909.6L913.8,916.6L913.3,924.0L912.7,931.7L912.1,939.7L911.5,948.0L910.9,956.3L910.2,964.7L909.4,973.0L908.6,981.1L907.6,989.5L906.5,998.6L905.2,1007.9L903.9,1017.1L902.7,1025.7L901.6,1033.5L900.7,1040.1L900.0,1045.0"/>
<path d="M48.1,818.1L60.8,821.7L73.1,824.5L85.1,826.5L96.6,828.2L107.8,829.9L118.7,831.8L129.2,833.7L139.3,835.7L149.2,837.4L158.7,838.8L167.9,840.2L176.8,841.6L187.0,842.9L197.5,844.3L207.8,845.8L217.8,847.3L227.5,848.8L236.8,850.6L245.6,852.9L253.9,856.0L261.8,859.8L269.2,864.2L276.2,868.6L282.8,874.3L288.9,880.9L294.7,885.9L300.1,890.1L305.2,894.3L310.0,899.0L314.5,903.7L318.7,908.5L322.7,913.1L326.4,917.6L329.9,921.9L333.3,926.0L336.5,930.0L339.5,933.9L342.3,937.8L345.0,941.7L347.6,945.5L350.0,949.3L352.4,953.0L354.6,956.9L356.7,960.8L358.7,964.6L360.7,968.3L362.6,971.9L364.4,975.2L366.2,978.3L368.0,981.2L369.7,983.9L371.5,986.4L373.2,988.7L375.0,991.0L376.8,993.0L378.7,994.8L380.6,996.2L382.7,997.2L384.9,998.0L387.3,998.7L388.6,998.5L390.4,998.2L392.6,997.9L394.9,997.5L397.4,997.0L399.9,996.4L402.4,995.8L404.6,995.0L406.6,994.2L408.6,993.2L410.5,992.2L412.4,991.1L414.3,989.9L416.3,988.5L418.3,987.1L420.5,985.6L422.8,983.9L425.2,982.0L427.8,980.0L430.3,977.9L432.9,975.7L435.5,973.6L437.9,971.4L440.3,969.4L442.4,967.7L444.4,966.3L446.2,965.1L448.0,963.8L449.9,962.2L452.0,960.2L454.4,957.7L457.3,954.3L460.6,950.1L464.1,945.3L467.9,940.0L472.0,934.2L476.2,928.0L480.7,921.5L485.4,914.7L490.3,907.9L495.4,900.5L501.0,892.5L506.9,884.1L512.9,875.5L519.0,866.9L525.0,858.5L530.7,850.6L536.1,843.4L541.3,836.8L546.4,830.5L551.3,824.6L556.1,818.9L560.8,813.6L565.3,808.7L569.6,804.1L573.7,799.9L577.5,796.0L580.9,792.7L584.1,789.7L587.1,787.0L590.1,784.6L593.2,782.4L596.6,780.4L600.3,778.6L604.4,776.9L608.8,775.5L613.4,774.4L618.1,773.5L622.8,772.7L627.5,772.0L632.0,771.3L636.3,770.6L640.2,769.9L643.8,769.4L647.2,769.0L650.5,768.6L654.0,768.3L657.7,767.8L661.8,767.4L666.4,766.8L671.7,766.0L677.5,765.2L683.6,764.3L690.1,763.3L696.6,762.3L703.2,761.4L709.7,760.4L716.0,759.6L722.1,758.7L728.2,757.9L734.3,757.1L740.4,756.3L746.4,755.5L752.5,754.8L758.6,754.1L764.7,753.4L770.9,752.8L777.3,752.2L783.7,751.6L790.0,751.1L796.3,750.7L802.5,750.3L808.5,750.0L814.1,749.9L819.6,749.8L825.0,749.8L830.2,749.8L835.3,750.0L840.1,750.2L844.8,750.6L849.1,751.3L853.3,752.1L857.1,753.1L860.5,754.2L863.7,755.4L866.7,756.9L869.6,758.5L872.3,760.3L875.0,762.4L877.7,764.7L880.4,767.3L883.1,770.2L885.7,773.3L888.2,776.6L890.6,780.1L892.9,783.8L895.1,787.6L897.1,791.6L899.0,795.6L900.8,799.9L902.5,804.2L904.0,808.7L905.5,813.4L906.8,818.3L908.0,823.4L909.1,828.6L910.2,834.0L911.1,839.8L911.9,845.8L912.6,851.9L913.2,858.1L913.7,864.3L914.1,870.5L914.3,876.6L914.4,882.4L914.3,888.2L914.0,893.9L913.7,899.6L913.3,905.4L912.8,911.3L912.3,917.6L911.9,924.1L911.4,931.1L910.9,938.4L910.4,946.0L909.8,953.7L909.2,961.6L908.6,969.4L907.9,977.2L907.1,984.9L906.3,992.8L905.2,1001.3L904.1,1010.1L902.9,1018.7L901.8,1026.9L900.8,1034.2L899.9,1040.4L899.3,1045.0"/>
<path d="M46.0,834.7L58.8,838.6L71.2,841.6L83.2,843.7L94.8,845.4L106.1,847.2L117.0,849.0L127.6,850.9L137.8,852.6L147.7,854.2L157.3,855.4L166.6,856.6L175.5,857.8L186.0,858.8L196.8,859.9L207.5,860.9L217.8,861.9L227.8,862.8L237.3,863.9L246.4,865.5L255.0,867.9L263.1,870.9L270.7,874.5L277.9,878.1L284.5,882.8L290.8,888.2L296.7,892.3L302.2,895.6L307.3,899.2L312.1,903.1L316.6,907.2L320.8,911.3L324.8,915.3L328.5,919.3L332.1,923.1L335.4,926.7L338.5,930.3L341.5,933.8L344.3,937.4L346.9,940.9L349.4,944.3L351.8,947.7L354.1,951.2L356.2,954.7L358.2,958.2L360.2,961.7L362.0,965.1L363.8,968.4L365.6,971.4L367.3,974.3L368.9,976.9L370.5,979.3L372.2,981.7L373.8,983.8L375.5,985.8L377.1,987.7L378.9,989.4L380.7,990.6L382.7,991.5L384.7,992.2L387.1,992.9L388.6,992.6L390.5,992.3L392.8,992.0L395.4,991.6L398.1,991.1L400.8,990.5L403.5,989.8L405.9,988.9L408.1,988.0L410.2,987.0L412.2,985.9L414.3,984.7L416.4,983.3L418.5,981.9L420.7,980.4L423.1,978.7L425.6,976.8L428.3,974.8L431.0,972.6L433.8,970.3L436.6,968.0L439.4,965.6L442.1,963.3L444.7,961.1L447.0,959.2L449.1,957.7L451.1,956.2L453.1,954.7L455.2,953.0L457.5,950.9L460.1,948.2L463.1,944.8L466.5,940.5L470.2,935.7L474.2,930.4L478.3,924.6L482.8,918.4L487.4,912.0L492.2,905.4L497.3,898.6L502.7,891.4L508.5,883.6L514.6,875.4L520.9,867.1L527.3,858.7L533.5,850.6L539.6,843.0L545.2,836.1L550.6,829.9L555.9,823.9L561.0,818.3L566.0,813.0L570.8,808.1L575.5,803.5L580.0,799.2L584.2,795.3L588.2,791.8L591.8,788.7L595.1,785.9L598.3,783.5L601.5,781.4L604.7,779.5L608.2,777.8L611.9,776.2L616.0,774.8L620.4,773.7L624.9,772.9L629.6,772.3L634.2,771.8L638.8,771.4L643.2,771.0L647.4,770.5L651.3,770.1L654.8,769.8L658.1,769.6L661.4,769.4L664.8,769.2L668.4,769.0L672.3,768.7L676.8,768.3L681.8,767.8L687.3,767.2L693.2,766.6L699.3,765.9L705.5,765.2L711.7,764.5L717.9,763.8L723.8,763.2L729.6,762.6L735.4,762.0L741.1,761.5L746.9,760.9L752.6,760.4L758.4,760.0L764.1,759.5L769.9,759.1L775.8,758.8L781.8,758.5L787.8,758.1L793.9,757.9L799.8,757.7L805.7,757.6L811.3,757.5L816.7,757.6L821.9,757.8L827.1,758.0L832.1,758.2L836.9,758.6L841.6,759.1L846.0,759.7L850.2,760.5L854.1,761.5L857.7,762.7L861.0,764.0L864.0,765.5L866.9,767.1L869.5,768.9L872.1,770.9L874.7,773.1L877.2,775.6L879.8,778.3L882.4,781.2L884.8,784.4L887.2,787.8L889.5,791.4L891.7,795.1L893.8,798.9L895.7,802.9L897.5,806.9L899.2,811.1L900.8,815.5L902.2,819.9L903.6,824.6L904.8,829.4L906.0,834.4L907.0,839.5L908.0,844.9L908.9,850.6L909.7,856.5L910.4,862.6L911.0,868.7L911.5,874.8L911.9,880.8L912.1,886.7L912.2,892.3L912.1,897.8L911.9,903.2L911.6,908.6L911.2,914.1L910.8,919.7L910.4,925.5L910.0,931.7L909.5,938.3L909.1,945.1L908.6,952.2L908.1,959.5L907.6,966.8L907.0,974.2L906.4,981.4L905.7,988.6L904.9,996.1L904.0,1004.1L902.9,1012.3L901.9,1020.4L900.9,1028.0L899.9,1034.9L899.2,1040.7L898.6,1045.0"/>
<path d="M44.0,851.3L56.8,855.4L69.3,858.7L81.3,860.9L93.1,862.7L104.4,864.4L115.4,866.2L126.0,868.0L136.4,869.6L146.3,871.0L156.0,872.1L165.3,873.1L174.3,874.0L185.0,874.7L196.1,875.4L207.1,876.0L217.8,876.5L228.1,876.9L237.9,877.3L247.2,878.2L256.1,879.8L264.4,882.0L272.2,884.8L279.5,887.5L286.3,891.2L292.7,895.6L298.6,898.6L304.2,901.2L309.4,904.0L314.2,907.2L318.8,910.6L323.0,914.1L327.0,917.6L330.7,921.0L334.2,924.3L337.5,927.4L340.6,930.6L343.5,933.8L346.2,936.9L348.8,940.0L351.3,943.2L353.6,946.2L355.7,949.3L357.8,952.5L359.8,955.7L361.6,958.9L363.4,961.9L365.1,964.9L366.7,967.7L368.3,970.2L369.8,972.6L371.3,974.8L372.9,976.9L374.4,978.9L375.9,980.7L377.5,982.4L379.1,983.9L380.8,985.1L382.7,985.9L384.6,986.5L386.9,987.1L388.5,986.8L390.6,986.5L393.1,986.1L395.9,985.7L398.8,985.1L401.7,984.5L404.6,983.7L407.1,982.9L409.5,981.9L411.8,980.8L414.0,979.6L416.2,978.3L418.5,976.8L420.8,975.3L423.2,973.6L425.7,971.8L428.4,969.8L431.3,967.6L434.3,965.2L437.3,962.7L440.3,960.2L443.3,957.7L446.3,955.2L449.0,952.9L451.6,950.8L453.9,949.0L456.1,947.4L458.2,945.7L460.5,943.9L462.9,941.6L465.7,938.8L468.9,935.2L472.5,931.0L476.3,926.1L480.4,920.8L484.7,915.0L489.3,908.9L494.1,902.5L499.1,896.0L504.3,889.4L509.9,882.4L516.0,874.8L522.4,866.8L529.0,858.6L535.6,850.6L542.1,842.8L548.4,835.5L554.3,828.9L559.9,822.9L565.3,817.2L570.7,812.0L575.8,807.1L580.9,802.5L585.7,798.2L590.3,794.3L594.8,790.7L598.9,787.5L602.6,784.7L606.1,782.2L609.5,780.1L612.8,778.2L616.2,776.6L619.8,775.1L623.6,773.8L627.7,772.7L632.0,772.0L636.5,771.4L641.1,771.1L645.6,770.9L650.1,770.8L654.5,770.7L658.6,770.5L662.3,770.3L665.8,770.2L669.1,770.2L672.3,770.2L675.6,770.2L679.1,770.1L682.9,770.1L687.2,769.9L692.0,769.6L697.2,769.3L702.8,768.9L708.5,768.4L714.4,768.0L720.2,767.6L726.0,767.2L731.7,766.8L737.1,766.5L742.6,766.2L748.0,765.9L753.4,765.6L758.8,765.4L764.2,765.1L769.6,765.0L775.1,764.9L780.6,764.8L786.3,764.7L792.0,764.6L797.7,764.6L803.3,764.7L808.8,764.8L814.2,765.1L819.3,765.4L824.2,765.8L829.1,766.2L833.9,766.7L838.5,767.2L843.0,767.9L847.2,768.8L851.2,769.8L855.0,771.0L858.4,772.4L861.5,773.9L864.4,775.5L867.0,777.3L869.5,779.3L871.9,781.5L874.3,783.8L876.8,786.4L879.2,789.2L881.6,792.3L883.9,795.5L886.2,799.0L888.4,802.6L890.5,806.3L892.5,810.2L894.3,814.1L896.0,818.2L897.6,822.4L899.0,826.7L900.4,831.1L901.7,835.7L902.8,840.5L903.9,845.4L905.0,850.5L905.9,855.8L906.8,861.4L907.5,867.3L908.2,873.3L908.8,879.3L909.3,885.3L909.7,891.1L909.9,896.8L910.0,902.2L910.0,907.5L909.8,912.6L909.5,917.6L909.2,922.7L908.8,928.0L908.4,933.5L908.0,939.3L907.7,945.4L907.3,951.8L906.9,958.4L906.4,965.2L906.0,972.0L905.5,978.9L904.9,985.7L904.3,992.4L903.6,999.3L902.7,1006.8L901.8,1014.5L900.9,1022.0L899.9,1029.1L899.1,1035.6L898.4,1040.9L897.9,1045.0"/>
<path d="M41.9,867.9L54.8,872.3L67.3,875.8L79.5,878.1L91.3,879.9L102.7,881.7L113.8,883.4L124.5,885.1L134.9,886.6L144.9,887.8L154.6,888.7L164.0,889.5L173.1,890.2L184.1,890.7L195.5,891.0L206.8,891.2L217.8,891.1L228.4,890.9L238.5,890.7L248.1,890.8L257.1,891.7L265.7,893.1L273.6,895.1L281.1,897.0L288.1,899.7L294.6,902.9L300.6,905.0L306.2,906.7L311.5,908.8L316.4,911.3L320.9,914.1L325.2,917.0L329.1,919.8L332.8,922.7L336.3,925.5L339.6,928.2L342.6,930.9L345.5,933.7L348.2,936.4L350.7,939.2L353.1,942.0L355.3,944.7L357.4,947.5L359.4,950.3L361.3,953.2L363.0,956.0L364.7,958.8L366.3,961.4L367.8,963.9L369.3,966.2L370.7,968.3L372.1,970.3L373.5,972.2L374.9,974.0L376.3,975.6L377.8,977.1L379.3,978.5L380.9,979.5L382.6,980.2L384.5,980.8L386.7,981.3L388.4,981.0L390.7,980.6L393.3,980.2L396.3,979.8L399.5,979.2L402.6,978.5L405.7,977.7L408.4,976.8L411.0,975.7L413.4,974.5L415.8,973.2L418.2,971.8L420.6,970.3L423.0,968.7L425.6,966.9L428.3,964.9L431.2,962.8L434.3,960.4L437.5,957.9L440.8,955.2L444.0,952.5L447.3,949.8L450.4,947.1L453.4,944.6L456.1,942.3L458.6,940.4L461.0,938.6L463.3,936.7L465.8,934.7L468.4,932.3L471.3,929.3L474.7,925.7L478.5,921.4L482.4,916.5L486.7,911.2L491.1,905.4L495.8,899.4L500.7,893.1L505.9,886.6L511.3,880.1L517.2,873.3L523.5,865.9L530.2,858.1L537.0,850.2L543.9,842.4L550.7,834.9L557.2,827.9L563.4,821.6L569.2,815.9L574.8,810.6L580.3,805.7L585.7,801.1L590.9,796.9L595.9,793.0L600.7,789.4L605.3,786.1L609.6,783.2L613.5,780.7L617.2,778.5L620.7,776.6L624.2,775.0L627.7,773.7L631.3,772.5L635.2,771.4L639.4,770.6L643.7,770.2L648.1,770.0L652.6,769.9L657.1,770.1L661.4,770.2L665.7,770.4L669.7,770.4L673.4,770.5L676.8,770.6L680.0,770.8L683.2,770.9L686.4,771.1L689.8,771.3L693.5,771.4L697.6,771.4L702.1,771.4L707.1,771.3L712.3,771.2L717.7,771.0L723.2,770.8L728.8,770.6L734.2,770.5L739.5,770.4L744.6,770.4L749.8,770.3L754.8,770.3L759.9,770.3L765.0,770.3L770.1,770.3L775.2,770.4L780.3,770.6L785.5,770.7L790.8,770.9L796.2,771.2L801.5,771.4L806.8,771.7L812.0,772.1L817.0,772.6L821.9,773.1L826.6,773.8L831.2,774.4L835.8,775.1L840.2,775.9L844.4,776.8L848.5,777.8L852.3,779.0L855.8,780.4L859.1,782.0L862.0,783.7L864.7,785.6L867.2,787.6L869.5,789.7L871.8,792.1L874.0,794.6L876.3,797.3L878.6,800.2L880.9,803.3L883.1,806.7L885.2,810.2L887.3,813.8L889.3,817.6L891.1,821.5L892.9,825.4L894.5,829.5L895.9,833.7L897.3,837.9L898.6,842.3L899.8,846.9L900.9,851.6L901.9,856.4L902.9,861.4L903.8,866.7L904.6,872.3L905.3,878.0L906.0,883.9L906.6,889.9L907.1,895.7L907.4,901.4L907.7,906.9L907.8,912.1L907.8,917.1L907.7,921.9L907.4,926.7L907.1,931.4L906.8,936.3L906.5,941.5L906.1,946.9L905.8,952.6L905.5,958.5L905.1,964.7L904.8,970.9L904.3,977.3L903.9,983.6L903.4,989.9L902.9,996.1L902.2,1002.6L901.5,1009.5L900.7,1016.6L899.8,1023.7L899.0,1030.3L898.3,1036.2L897.7,1041.2L897.2,1045.0"/>
<path d="M39.8,884.4L52.8,889.2L65.4,892.9L77.6,895.3L89.5,897.2L101.0,898.9L112.1,900.6L122.9,902.2L133.4,903.5L143.5,904.6L153.3,905.3L162.8,905.9L171.9,906.5L183.1,906.6L194.8,906.6L206.5,906.3L217.8,905.8L228.7,904.9L239.1,904.1L248.9,903.5L258.2,903.5L266.9,904.2L275.1,905.4L282.7,906.4L289.8,908.1L296.4,910.2L302.6,911.4L308.3,912.3L313.6,913.6L318.5,915.4L323.1,917.5L327.3,919.8L331.3,922.1L335.0,924.4L338.4,926.7L341.7,928.9L344.7,931.2L347.5,933.6L350.1,936.0L352.6,938.4L354.9,940.8L357.1,943.2L359.1,945.6L361.0,948.1L362.8,950.6L364.5,953.1L366.1,955.6L367.5,957.9L369.0,960.1L370.3,962.1L371.6,964.0L372.9,965.8L374.2,967.5L375.5,969.0L376.8,970.5L378.1,971.9L379.5,973.0L381.0,973.9L382.6,974.6L384.4,975.0L386.5,975.5L388.3,975.2L390.7,974.8L393.6,974.4L396.8,973.9L400.1,973.3L403.5,972.5L406.8,971.7L409.7,970.7L412.4,969.5L415.0,968.3L417.6,966.9L420.1,965.4L422.6,963.8L425.3,962.0L428.0,960.1L430.9,958.0L434.0,955.8L437.3,953.2L440.8,950.5L444.2,947.6L447.8,944.7L451.2,941.8L454.6,939.0L457.8,936.3L460.7,933.9L463.4,931.7L465.9,929.7L468.5,927.7L471.1,925.5L473.9,922.9L477.0,919.9L480.5,916.2L484.4,911.8L488.5,906.9L492.9,901.6L497.5,895.8L502.3,889.8L507.4,883.6L512.8,877.3L518.4,870.9L524.4,864.2L531.0,857.0L537.9,849.5L545.1,841.8L552.2,834.3L559.3,827.0L566.1,820.3L572.4,814.3L578.4,808.9L584.3,804.0L590.0,799.4L595.6,795.2L600.9,791.3L606.1,787.8L611.1,784.5L615.8,781.6L620.3,778.9L624.4,776.7L628.2,774.8L631.9,773.2L635.5,771.8L639.2,770.7L642.9,769.8L646.9,769.0L651.0,768.5L655.3,768.4L659.7,768.5L664.1,768.8L668.5,769.2L672.8,769.6L676.9,770.1L680.9,770.4L684.5,770.7L687.8,771.0L691.0,771.3L694.1,771.7L697.2,772.1L700.5,772.4L704.0,772.7L708.0,773.0L712.3,773.2L717.0,773.3L721.9,773.5L727.0,773.6L732.1,773.6L737.3,773.7L742.4,773.9L747.3,774.0L752.2,774.3L756.9,774.5L761.7,774.7L766.4,774.9L771.2,775.2L775.9,775.5L780.7,775.9L785.5,776.3L790.4,776.7L795.3,777.2L800.3,777.7L805.3,778.2L810.3,778.7L815.1,779.4L819.9,780.1L824.4,780.9L828.9,781.8L833.3,782.6L837.6,783.5L841.8,784.5L845.9,785.6L849.7,786.9L853.3,788.3L856.7,789.9L859.7,791.6L862.5,793.6L865.0,795.6L867.3,797.8L869.5,800.1L871.6,802.6L873.7,805.3L875.8,808.1L878.0,811.2L880.1,814.4L882.2,817.8L884.2,821.3L886.2,825.0L888.0,828.8L889.8,832.7L891.4,836.7L892.9,840.8L894.3,844.9L895.6,849.2L896.8,853.5L897.9,858.0L898.9,862.7L899.9,867.4L900.8,872.4L901.6,877.6L902.4,883.1L903.1,888.8L903.8,894.6L904.4,900.4L904.9,906.2L905.2,911.8L905.5,917.0L905.7,922.0L905.7,926.7L905.6,931.2L905.4,935.7L905.1,940.1L904.8,944.7L904.5,949.4L904.2,954.4L904.0,959.7L903.7,965.2L903.4,970.9L903.1,976.7L902.7,982.5L902.3,988.4L901.9,994.2L901.4,999.9L900.9,1005.9L900.2,1012.3L899.5,1018.8L898.8,1025.3L898.1,1031.4L897.5,1036.9L896.9,1041.5L896.5,1045.0"/>
<path d="M37.7,901.0L50.8,906.1L63.5,910.0L75.8,912.5L87.7,914.4L99.3,916.2L110.5,917.8L121.4,919.3L131.9,920.5L142.1,921.4L151.9,922.0L161.5,922.4L170.7,922.7L182.1,922.5L194.2,922.2L206.1,921.5L217.8,920.4L228.9,919.0L239.6,917.4L249.8,916.2L259.3,915.4L268.2,915.4L276.6,915.7L284.4,915.9L291.6,916.6L298.3,917.6L304.5,917.8L310.3,917.8L315.7,918.4L320.6,919.5L325.2,921.0L329.5,922.6L333.4,924.3L337.1,926.1L340.6,927.9L343.7,929.7L346.7,931.5L349.5,933.5L352.1,935.5L354.5,937.6L356.8,939.7L358.9,941.7L360.8,943.8L362.6,945.9L364.3,948.1L365.9,950.3L367.4,952.4L368.8,954.4L370.1,956.3L371.4,958.1L372.6,959.8L373.7,961.3L374.9,962.7L376.1,964.1L377.2,965.4L378.5,966.6L379.7,967.6L381.1,968.4L382.6,968.9L384.3,969.3L386.3,969.7L388.3,969.3L390.8,969.0L393.9,968.5L397.3,968.0L400.8,967.3L404.4,966.6L407.9,965.7L411.0,964.6L413.9,963.4L416.6,962.1L419.3,960.6L422.0,959.0L424.7,957.3L427.5,955.4L430.4,953.4L433.5,951.2L436.8,948.7L440.4,946.0L444.0,943.1L447.7,940.1L451.5,937.0L455.2,933.9L458.7,930.9L462.1,928.0L465.3,925.4L468.1,923.1L470.9,920.9L473.6,918.7L476.4,916.3L479.3,913.6L482.6,910.5L486.3,906.7L490.4,902.2L494.7,897.3L499.1,891.9L503.9,886.3L508.8,880.3L514.1,874.2L519.6,867.9L525.4,861.7L531.7,855.1L538.5,848.1L545.7,840.8L553.1,833.4L560.5,826.1L567.9,819.2L574.9,812.7L581.5,807.0L587.7,801.9L593.8,797.3L599.7,793.1L605.4,789.2L610.9,785.7L616.3,782.5L621.4,779.6L626.3,777.0L631.0,774.7L635.2,772.7L639.3,771.1L643.1,769.7L646.9,768.7L650.7,767.8L654.5,767.2L658.5,766.7L662.7,766.5L666.9,766.6L671.3,767.0L675.6,767.6L679.9,768.3L684.1,769.0L688.1,769.8L692.0,770.3L695.6,770.8L698.8,771.4L701.9,771.9L705.0,772.5L708.0,773.0L711.2,773.6L714.6,774.1L718.3,774.6L722.4,775.0L726.8,775.4L731.4,775.8L736.2,776.1L741.0,776.5L745.8,776.8L750.6,777.2L755.2,777.7L759.7,778.1L764.1,778.6L768.5,779.1L772.9,779.6L777.4,780.1L781.8,780.7L786.2,781.3L790.7,782.0L795.2,782.7L799.8,783.4L804.5,784.2L809.1,784.9L813.8,785.8L818.3,786.7L822.7,787.6L827.0,788.7L831.2,789.7L835.3,790.8L839.4,792.0L843.4,793.2L847.3,794.5L851.0,795.9L854.4,797.5L857.6,799.3L860.4,801.3L863.0,803.4L865.3,805.6L867.4,808.0L869.5,810.5L871.4,813.2L873.3,816.0L875.3,819.0L877.4,822.1L879.4,825.4L881.3,828.9L883.2,832.5L885.1,836.3L886.8,840.1L888.5,844.0L890.0,848.0L891.4,852.1L892.7,856.2L893.9,860.4L895.0,864.7L896.0,869.2L896.9,873.8L897.8,878.5L898.7,883.3L899.5,888.5L900.2,893.9L901.0,899.5L901.6,905.3L902.2,911.0L902.7,916.6L903.0,922.1L903.3,927.2L903.5,931.9L903.5,936.3L903.4,940.6L903.3,944.7L903.1,948.8L902.8,953.0L902.6,957.4L902.3,962.0L902.1,966.9L901.9,971.9L901.6,977.1L901.4,982.4L901.1,987.8L900.7,993.1L900.4,998.4L900.0,1003.7L899.5,1009.1L899.0,1015.0L898.4,1021.0L897.8,1026.9L897.2,1032.5L896.6,1037.6L896.2,1041.8L895.8,1045.0"/>
<path d="M35.6,917.6L48.7,922.9L61.5,927.1L73.9,929.7L85.9,931.7L97.6,933.5L108.9,935.0L119.8,936.4L130.4,937.5L140.7,938.2L150.6,938.6L160.2,938.8L169.5,938.9L181.2,938.5L193.5,937.7L205.8,936.6L217.7,935.0L229.2,933.0L240.2,930.8L250.6,928.8L260.4,927.3L269.5,926.5L278.1,926.0L286.0,925.4L293.4,925.0L300.2,924.9L306.5,924.1L312.4,923.4L317.7,923.2L322.7,923.6L327.4,924.4L331.6,925.4L335.6,926.6L339.3,927.8L342.7,929.1L345.8,930.4L348.8,931.9L351.5,933.4L354.1,935.1L356.4,936.8L358.6,938.5L360.6,940.2L362.5,941.9L364.2,943.7L365.8,945.6L367.3,947.4L368.7,949.2L370.0,950.9L371.2,952.6L372.4,954.1L373.5,955.5L374.5,956.8L375.6,958.0L376.6,959.2L377.7,960.3L378.8,961.3L380.0,962.1L381.2,962.8L382.6,963.3L384.2,963.6L386.1,963.9L388.2,963.5L390.9,963.1L394.1,962.6L397.7,962.1L401.5,961.4L405.3,960.6L408.9,959.6L412.3,958.5L415.3,957.2L418.3,955.8L421.1,954.3L424.0,952.6L426.8,950.8L429.8,948.8L432.9,946.6L436.1,944.3L439.7,941.7L443.4,938.8L447.3,935.7L451.2,932.5L455.2,929.2L459.1,926.0L462.9,922.8L466.5,919.7L469.8,916.9L472.9,914.4L475.8,912.1L478.7,909.7L481.7,907.1L484.8,904.3L488.3,901.0L492.1,897.1L496.4,892.7L500.8,887.7L505.4,882.3L510.3,876.7L515.4,870.8L520.8,864.7L526.4,858.6L532.4,852.4L538.9,846.0L546.0,839.2L553.4,832.1L561.1,825.0L568.9,818.0L576.5,811.3L583.7,805.1L590.6,799.7L597.0,795.0L603.3,790.7L609.4,786.8L615.3,783.3L621.0,780.1L626.5,777.3L631.8,774.7L636.9,772.4L641.6,770.4L646.1,768.7L650.3,767.4L654.3,766.3L658.3,765.5L662.1,764.9L666.1,764.5L670.1,764.3L674.3,764.4L678.6,764.8L682.9,765.5L687.1,766.4L691.3,767.4L695.4,768.5L699.4,769.4L703.1,770.3L706.6,771.0L709.9,771.8L712.9,772.5L715.8,773.3L718.8,774.0L721.9,774.7L725.2,775.4L728.7,776.1L732.6,776.8L736.7,777.4L741.0,778.1L745.4,778.7L749.9,779.3L754.3,779.9L758.7,780.6L763.0,781.3L767.2,782.0L771.3,782.7L775.4,783.5L779.5,784.3L783.5,785.1L787.6,785.9L791.7,786.8L795.9,787.7L800.1,788.7L804.3,789.6L808.7,790.7L813.0,791.7L817.2,792.8L821.5,793.9L825.6,795.1L829.6,796.4L833.5,797.7L837.4,799.1L841.3,800.4L845.1,801.8L848.7,803.4L852.2,805.0L855.4,806.8L858.4,808.8L861.1,810.9L863.5,813.2L865.6,815.7L867.6,818.3L869.4,821.0L871.2,823.8L873.0,826.8L874.9,829.9L876.7,833.1L878.6,836.5L880.4,840.0L882.2,843.7L884.0,847.5L885.6,851.3L887.1,855.3L888.6,859.3L889.9,863.3L891.1,867.5L892.1,871.7L893.1,875.9L894.1,880.3L894.9,884.8L895.8,889.5L896.6,894.3L897.3,899.4L898.1,904.7L898.8,910.3L899.4,916.0L900.0,921.6L900.5,927.1L900.8,932.4L901.1,937.3L901.3,941.8L901.4,946.0L901.3,949.9L901.2,953.8L901.0,957.5L900.8,961.4L900.6,965.3L900.4,969.6L900.3,974.0L900.1,978.7L899.9,983.4L899.7,988.2L899.4,993.0L899.2,997.9L898.9,1002.7L898.6,1007.4L898.2,1012.4L897.7,1017.7L897.3,1023.2L896.7,1028.6L896.2,1033.7L895.8,1038.3L895.4,1042.1L895.1,1045.0"/>
<path d="M33.5,934.1L46.7,939.8L59.6,944.2L72.1,946.9L84.2,949.0L95.9,950.7L107.2,952.3L118.3,953.5L128.9,954.4L139.3,955.0L149.3,955.2L158.9,955.3L168.3,955.1L180.2,954.4L192.9,953.3L205.4,951.7L217.7,949.7L229.5,947.1L240.8,944.2L251.4,941.5L261.4,939.2L270.8,937.6L279.5,936.3L287.6,934.8L295.1,933.5L302.1,932.3L308.5,930.5L314.4,928.9L319.8,928.0L324.9,927.7L329.5,927.9L333.8,928.3L337.7,928.8L341.4,929.5L344.8,930.3L347.9,931.1L350.8,932.2L353.5,933.3L356.0,934.6L358.3,936.0L360.4,937.3L362.4,938.7L364.2,940.1L365.8,941.5L367.4,943.0L368.8,944.5L370.1,946.0L371.3,947.4L372.4,948.8L373.4,950.0L374.4,951.2L375.3,952.3L376.3,953.3L377.2,954.3L378.1,955.2L379.1,956.0L380.2,956.7L381.3,957.2L382.6,957.6L384.1,957.8L386.0,958.0L388.1,957.7L391.0,957.3L394.4,956.8L398.2,956.2L402.2,955.5L406.2,954.6L410.0,953.6L413.6,952.4L416.8,951.1L419.9,949.6L422.9,948.0L425.9,946.2L428.9,944.3L432.0,942.2L435.3,939.9L438.8,937.4L442.5,934.7L446.4,931.6L450.5,928.4L454.7,925.0L458.9,921.5L463.0,918.0L467.0,914.6L470.9,911.4L474.4,908.5L477.7,905.8L480.8,903.2L483.8,900.7L487.0,898.0L490.3,895.0L493.9,891.6L498.0,887.6L502.3,883.1L506.9,878.1L511.6,872.7L516.6,867.1L521.9,861.2L527.4,855.2L533.3,849.2L539.5,843.2L546.2,837.0L553.5,830.3L561.2,823.5L569.2,816.6L577.2,809.8L585.0,803.4L592.6,797.6L599.6,792.4L606.3,788.0L612.8,784.0L619.0,780.5L625.1,777.3L631.0,774.6L636.7,772.1L642.1,769.9L647.4,767.9L652.3,766.1L657.0,764.7L661.3,763.6L665.5,762.8L669.6,762.3L673.6,762.0L677.7,761.8L681.8,761.9L686.0,762.3L690.2,763.0L694.5,764.0L698.6,765.2L702.7,766.5L706.7,767.9L710.6,769.1L714.3,770.2L717.7,771.2L720.9,772.2L723.8,773.1L726.7,774.0L729.6,775.0L732.6,775.9L735.7,776.8L739.1,777.7L742.7,778.6L746.6,779.5L750.6,780.4L754.6,781.2L758.7,782.1L762.8,783.0L766.9,783.9L770.8,784.9L774.7,785.9L778.5,786.9L782.2,787.9L786.0,788.9L789.7,790.0L793.5,791.1L797.2,792.2L801.0,793.4L804.9,794.6L808.9,795.9L812.8,797.2L816.8,798.5L820.7,799.8L824.6,801.2L828.4,802.7L832.1,804.2L835.8,805.7L839.5,807.3L843.1,808.8L846.7,810.5L850.2,812.2L853.4,814.1L856.5,816.1L859.3,818.2L861.8,820.6L864.0,823.1L865.9,825.7L867.7,828.5L869.4,831.4L871.1,834.4L872.7,837.5L874.4,840.7L876.1,844.1L877.9,847.5L879.6,851.2L881.2,854.9L882.9,858.7L884.4,862.6L885.8,866.6L887.1,870.6L888.3,874.6L889.4,878.7L890.4,882.9L891.3,887.1L892.2,891.5L893.0,895.9L893.7,900.5L894.5,905.2L895.2,910.2L895.9,915.5L896.6,921.0L897.2,926.6L897.8,932.2L898.2,937.6L898.6,942.7L899.0,947.4L899.1,951.7L899.2,955.6L899.2,959.3L899.1,962.8L899.0,966.2L898.8,969.7L898.7,973.3L898.5,977.1L898.4,981.2L898.3,985.4L898.1,989.6L898.0,993.9L897.8,998.3L897.6,1002.6L897.4,1006.9L897.1,1011.2L896.9,1015.7L896.5,1020.5L896.1,1025.4L895.7,1030.2L895.3,1034.8L895.0,1038.9L894.7,1042.4L894.5,1045.0"/>
<path d="M31.4,950.7L44.7,956.7L57.6,961.3L70.2,964.1L82.4,966.2L94.2,968.0L105.6,969.5L116.7,970.6L127.4,971.4L137.8,971.8L147.9,971.9L157.6,971.7L167.1,971.3L179.2,970.3L192.2,968.9L205.1,966.9L217.7,964.3L229.8,961.1L241.3,957.6L252.3,954.1L262.5,951.1L272.1,948.7L281.0,946.6L289.3,944.3L296.9,942.0L304.0,939.6L310.5,936.9L316.4,934.5L321.9,932.8L327.0,931.9L331.6,931.3L335.9,931.1L339.9,931.1L343.5,931.2L346.9,931.5L350.0,931.9L352.9,932.5L355.5,933.3L358.0,934.2L360.2,935.2L362.3,936.2L364.2,937.2L365.9,938.2L367.5,939.4L368.9,940.5L370.2,941.7L371.4,942.8L372.5,943.9L373.5,945.0L374.4,946.0L375.3,946.9L376.1,947.8L376.9,948.6L377.8,949.3L378.6,950.0L379.4,950.7L380.4,951.3L381.4,951.7L382.6,951.9L384.0,952.1L385.8,952.2L388.0,951.9L391.1,951.4L394.7,950.9L398.7,950.3L402.9,949.5L407.1,948.7L411.1,947.6L414.9,946.3L418.2,944.9L421.5,943.4L424.7,941.6L427.8,939.8L431.0,937.7L434.3,935.5L437.7,933.1L441.4,930.5L445.3,927.6L449.4,924.4L453.8,921.0L458.2,917.4L462.6,913.7L467.0,910.1L471.2,906.5L475.2,903.1L479.0,900.0L482.4,897.2L485.7,894.4L488.9,891.7L492.3,888.8L495.8,885.6L499.6,882.1L503.8,878.1L508.3,873.5L513.0,868.5L517.9,863.1L523.0,857.5L528.4,851.7L534.1,845.8L540.1,839.8L546.5,834.0L553.4,827.9L561.0,821.4L569.0,814.8L577.2,808.2L585.5,801.7L593.6,795.6L601.4,790.0L608.7,785.1L615.6,781.0L622.2,777.4L628.7,774.2L635.0,771.4L641.0,769.0L646.9,766.8L652.5,765.0L657.9,763.3L663.0,761.9L667.8,760.7L672.4,759.9L676.7,759.4L681.0,759.1L685.1,759.0L689.3,759.2L693.4,759.5L697.7,760.2L701.9,761.2L706.0,762.5L710.1,764.1L714.2,765.7L718.1,767.3L721.8,768.8L725.4,770.2L728.8,771.4L731.9,772.6L734.8,773.7L737.6,774.8L740.4,775.9L743.3,777.0L746.3,778.1L749.5,779.3L752.9,780.4L756.5,781.5L760.1,782.7L763.9,783.8L767.6,784.9L771.4,786.1L775.1,787.3L778.7,788.5L782.2,789.8L785.7,791.0L789.1,792.3L792.5,793.6L795.9,794.9L799.3,796.3L802.8,797.7L806.2,799.1L809.8,800.6L813.4,802.1L817.0,803.7L820.6,805.2L824.2,806.8L827.8,808.5L831.3,810.2L834.7,812.0L838.1,813.7L841.6,815.5L845.0,817.3L848.4,819.1L851.6,821.1L854.7,823.1L857.6,825.3L860.2,827.7L862.4,830.2L864.5,832.9L866.3,835.8L867.9,838.7L869.4,841.8L870.9,845.0L872.4,848.2L873.9,851.6L875.5,855.0L877.1,858.6L878.7,862.3L880.3,866.1L881.7,869.9L883.2,873.9L884.5,877.8L885.7,881.9L886.8,885.9L887.8,890.0L888.7,894.1L889.5,898.3L890.3,902.6L891.0,907.0L891.7,911.5L892.4,916.2L893.1,921.1L893.7,926.4L894.4,931.8L895.0,937.3L895.6,942.8L896.0,948.0L896.4,953.0L896.8,957.5L897.0,961.6L897.1,965.2L897.1,968.6L897.0,971.8L896.9,974.9L896.8,978.0L896.7,981.3L896.6,984.7L896.5,988.3L896.5,992.1L896.4,995.8L896.3,999.7L896.2,1003.5L896.0,1007.3L895.9,1011.2L895.7,1015.0L895.5,1018.9L895.3,1023.2L895.0,1027.6L894.7,1031.9L894.4,1035.9L894.1,1039.6L893.9,1042.7L893.8,1045.0"/>
<path d="M29.3,967.3L42.7,973.5L55.7,978.4L68.3,981.3L80.6,983.5L92.5,985.3L104.0,986.7L115.1,987.7L126.0,988.4L136.4,988.6L146.6,988.5L156.4,988.1L165.9,987.5L178.3,986.3L191.5,984.4L204.8,982.0L217.7,978.9L230.1,975.1L241.9,970.9L253.1,966.8L263.6,963.0L273.4,959.8L282.5,956.9L290.9,953.7L298.7,950.4L305.8,946.9L312.4,943.3L318.5,940.0L324.0,937.6L329.1,936.0L333.8,934.8L338.1,933.9L342.0,933.3L345.7,932.9L349.0,932.7L352.1,932.6L354.9,932.8L357.5,933.2L359.9,933.7L362.1,934.3L364.1,935.0L365.9,935.7L367.6,936.4L369.1,937.2L370.4,938.0L371.6,938.8L372.7,939.6L373.7,940.5L374.6,941.2L375.4,941.9L376.2,942.6L376.9,943.2L377.6,943.8L378.3,944.4L379.0,944.9L379.8,945.4L380.6,945.8L381.5,946.1L382.6,946.3L383.9,946.4L385.6,946.4L387.9,946.0L391.1,945.6L394.9,945.0L399.1,944.4L403.5,943.6L408.0,942.7L412.2,941.6L416.1,940.3L419.7,938.8L423.1,937.1L426.4,935.3L429.7,933.4L433.1,931.2L436.5,928.9L440.1,926.4L444.0,923.6L448.1,920.6L452.5,917.2L457.0,913.6L461.7,909.9L466.3,906.0L470.9,902.2L475.4,898.4L479.6,894.9L483.5,891.6L487.2,888.5L490.6,885.6L494.1,882.7L497.6,879.6L501.2,876.3L505.2,872.7L509.6,868.6L514.3,864.0L519.1,858.9L524.1,853.5L529.4,847.9L534.9,842.2L540.8,836.3L547.0,830.5L553.5,824.7L560.7,818.8L568.5,812.6L576.7,806.1L585.2,799.7L593.8,793.5L602.2,787.7L610.3,782.4L617.8,777.9L624.9,774.0L631.7,770.7L638.4,767.9L644.8,765.5L651.1,763.4L657.1,761.6L662.9,760.1L668.4,758.7L673.7,757.6L678.7,756.7L683.4,756.2L687.9,755.9L692.3,755.9L696.6,756.1L700.8,756.5L705.1,757.1L709.3,758.1L713.5,759.4L717.6,761.1L721.7,762.9L725.6,764.8L729.4,766.7L733.1,768.5L736.6,770.1L739.9,771.6L742.9,773.0L745.8,774.3L748.5,775.6L751.2,776.9L754.0,778.2L756.8,779.5L759.9,780.8L763.0,782.2L766.3,783.6L769.7,785.0L773.1,786.4L776.5,787.8L779.9,789.2L783.2,790.7L786.5,792.1L789.7,793.7L792.8,795.2L795.9,796.7L799.0,798.3L802.1,799.9L805.2,801.5L808.3,803.2L811.4,804.9L814.6,806.6L817.9,808.4L821.2,810.2L824.4,812.0L827.7,813.9L830.9,815.8L834.1,817.7L837.3,819.7L840.4,821.7L843.6,823.7L846.8,825.7L850.0,827.8L853.0,829.9L855.9,832.2L858.6,834.6L861.0,837.1L863.1,839.9L864.9,842.8L866.6,845.8L868.0,849.0L869.4,852.2L870.7,855.5L872.0,859.0L873.4,862.4L874.9,866.0L876.4,869.6L877.8,873.4L879.3,877.2L880.6,881.1L881.9,885.1L883.2,889.1L884.3,893.1L885.3,897.2L886.2,901.3L887.0,905.4L887.7,909.5L888.4,913.8L889.0,918.1L889.7,922.6L890.3,927.1L890.9,932.0L891.6,937.2L892.2,942.6L892.8,948.0L893.3,953.3L893.8,958.5L894.2,963.3L894.6,967.6L894.8,971.5L894.9,974.9L895.0,978.0L894.9,980.8L894.9,983.6L894.8,986.4L894.8,989.2L894.7,992.3L894.7,995.5L894.7,998.8L894.6,1002.1L894.6,1005.4L894.5,1008.7L894.5,1012.1L894.4,1015.4L894.3,1018.7L894.2,1022.2L894.0,1025.9L893.8,1029.7L893.7,1033.5L893.5,1037.1L893.3,1040.3L893.2,1043.0L893.1,1045.0"/>
<path d="M27.2,983.9L40.7,990.4L53.8,995.5L66.5,998.5L78.8,1000.7L90.8,1002.5L102.4,1003.9L113.6,1004.8L124.5,1005.3L135.0,1005.4L145.2,1005.1L155.1,1004.6L164.6,1003.8L177.3,1002.2L190.9,1000.0L204.4,997.1L217.7,993.6L230.4,989.2L242.5,984.3L253.9,979.4L264.7,974.9L274.7,970.9L283.9,967.2L292.5,963.2L300.4,958.9L307.7,954.3L314.4,949.6L320.5,945.6L326.1,942.4L331.2,940.1L335.9,938.2L340.3,936.8L344.2,935.6L347.8,934.6L351.2,933.9L354.2,933.4L357.0,933.1L359.5,933.1L361.9,933.2L364.0,933.5L365.9,933.9L367.7,934.2L369.3,934.6L370.7,935.0L371.9,935.4L373.1,935.9L374.1,936.5L375.0,937.0L375.8,937.4L376.5,937.9L377.1,938.3L377.7,938.7L378.3,939.1L378.9,939.5L379.5,939.8L380.1,940.1L380.8,940.4L381.6,940.5L382.6,940.6L383.8,940.7L385.4,940.6L387.9,940.2L391.2,939.7L395.2,939.2L399.6,938.5L404.2,937.7L408.9,936.7L413.3,935.5L417.4,934.2L421.2,932.6L424.7,930.9L428.2,929.0L431.7,927.0L435.2,924.7L438.8,922.3L442.6,919.6L446.6,916.8L450.9,913.6L455.5,910.1L460.3,906.3L465.1,902.3L470.0,898.3L474.8,894.2L479.5,890.3L484.0,886.6L488.1,883.1L491.9,879.9L495.6,876.8L499.2,873.6L502.9,870.4L506.7,867.0L510.8,863.2L515.4,859.0L520.2,854.4L525.2,849.3L530.4,843.9L535.8,838.3L541.5,832.6L547.4,826.8L553.8,821.1L560.5,815.5L567.9,809.7L576.0,803.7L584.5,797.5L593.3,791.3L602.1,785.4L610.8,779.8L619.1,774.8L626.9,770.6L634.1,767.0L641.2,764.1L648.1,761.6L654.7,759.5L661.1,757.8L667.3,756.4L673.2,755.2L679.0,754.1L684.4,753.3L689.6,752.8L694.5,752.5L699.2,752.5L703.7,752.7L708.1,753.2L712.4,753.9L716.7,754.8L721.0,756.0L725.1,757.6L729.2,759.6L733.2,761.7L737.0,763.9L740.7,766.1L744.3,768.2L747.7,770.1L750.9,771.8L753.9,773.4L756.7,774.9L759.4,776.4L762.0,777.8L764.7,779.3L767.4,780.8L770.2,782.4L773.2,784.0L776.2,785.6L779.2,787.3L782.3,788.9L785.4,790.6L788.4,792.3L791.4,794.0L794.3,795.8L797.2,797.5L800.0,799.3L802.8,801.1L805.5,802.9L808.3,804.8L811.0,806.7L813.8,808.6L816.6,810.6L819.5,812.6L822.4,814.6L825.3,816.7L828.3,818.8L831.2,820.9L834.1,823.0L837.0,825.2L839.9,827.5L842.7,829.7L845.7,831.9L848.7,834.2L851.6,836.4L854.5,838.8L857.2,841.2L859.7,843.8L861.9,846.6L863.8,849.5L865.4,852.6L866.9,855.9L868.2,859.2L869.4,862.6L870.5,866.1L871.7,869.7L873.0,873.3L874.3,876.9L875.6,880.7L877.0,884.5L878.3,888.4L879.5,892.4L880.7,896.4L881.8,900.4L882.9,904.4L883.8,908.5L884.5,912.5L885.2,916.6L885.9,920.7L886.5,924.9L887.0,929.2L887.6,933.6L888.2,938.1L888.8,942.9L889.4,948.0L890.0,953.3L890.6,958.7L891.1,963.9L891.6,968.9L892.0,973.6L892.4,977.8L892.6,981.4L892.8,984.5L892.8,987.3L892.9,989.9L892.8,992.3L892.8,994.7L892.8,997.2L892.8,999.9L892.8,1002.7L892.9,1005.5L892.9,1008.3L892.9,1011.1L892.9,1014.0L892.9,1016.8L892.9,1019.6L892.9,1022.5L892.8,1025.5L892.8,1028.6L892.7,1031.9L892.6,1035.2L892.5,1038.2L892.5,1041.0L892.4,1043.3L892.4,1045.0"/>
<path d="M25.1,1000.4L38.7,1007.3L51.8,1012.6L64.6,1015.7L77.0,1018.0L89.1,1019.8L100.7,1021.1L112.0,1021.9L123.0,1022.3L133.6,1022.2L143.9,1021.8L153.8,1021.0L163.4,1020.0L176.3,1018.1L190.2,1015.6L204.1,1012.3L217.6,1008.2L230.7,1003.2L243.1,997.7L254.8,992.1L265.7,986.8L275.9,982.0L285.4,977.5L294.2,972.6L302.2,967.3L309.6,961.6L316.4,956.0L322.5,951.1L328.2,947.2L333.4,944.2L338.1,941.7L342.4,939.6L346.4,937.8L350.0,936.4L353.3,935.1L356.3,934.1L359.0,933.4L361.6,933.0L363.8,932.8L365.9,932.7L367.8,932.7L369.5,932.7L371.0,932.7L372.3,932.8L373.5,932.9L374.5,933.1L375.4,933.3L376.2,933.5L376.9,933.7L377.5,933.9L378.0,934.0L378.5,934.2L379.0,934.4L379.4,934.5L379.9,934.7L380.4,934.8L381.0,934.9L381.7,935.0L382.6,935.0L383.7,934.9L385.2,934.8L387.8,934.4L391.3,933.9L395.4,933.3L400.0,932.6L404.9,931.7L409.8,930.7L414.4,929.5L418.7,928.1L422.6,926.5L426.3,924.7L430.0,922.7L433.6,920.5L437.3,918.2L441.0,915.6L445.0,912.9L449.2,909.9L453.7,906.6L458.5,902.9L463.5,898.9L468.6,894.7L473.7,890.5L478.8,886.3L483.7,882.2L488.3,878.3L492.6,874.7L496.7,871.2L500.5,867.9L504.3,864.6L508.2,861.2L512.2,857.7L516.5,853.8L521.2,849.5L526.2,844.8L531.3,839.7L536.6,834.3L542.2,828.8L548.0,823.1L554.1,817.4L560.6,811.7L567.6,806.2L575.2,800.7L583.5,794.8L592.2,788.8L601.3,782.9L610.4,777.2L619.4,772.0L627.9,767.3L635.9,763.3L643.4,760.1L650.7,757.4L657.7,755.3L664.5,753.6L671.1,752.2L677.5,751.2L683.6,750.3L689.5,749.6L695.1,749.0L700.4,748.8L705.5,748.8L710.4,749.0L715.0,749.5L719.6,750.2L724.0,751.2L728.4,752.4L732.6,753.9L736.8,755.8L740.8,758.1L744.7,760.5L748.4,763.0L752.0,765.5L755.5,767.9L758.9,770.0L762.0,772.0L764.9,773.7L767.7,775.5L770.3,777.1L772.9,778.8L775.4,780.4L778.0,782.2L780.6,783.9L783.3,785.8L786.1,787.7L788.8,789.6L791.5,791.5L794.2,793.4L796.9,795.4L799.6,797.4L802.2,799.4L804.7,801.4L807.2,803.5L809.6,805.5L812.0,807.6L814.5,809.7L816.9,811.9L819.3,814.1L821.8,816.3L824.3,818.5L826.9,820.8L829.5,823.2L832.1,825.5L834.7,827.9L837.3,830.3L839.9,832.8L842.4,835.2L845.1,837.7L847.8,840.1L850.5,842.6L853.3,845.1L855.9,847.6L858.4,850.3L860.7,853.1L862.7,856.0L864.5,859.2L865.9,862.5L867.2,865.9L868.3,869.4L869.3,873.0L870.3,876.7L871.4,880.4L872.5,884.1L873.7,887.9L874.9,891.8L876.1,895.7L877.3,899.6L878.4,903.6L879.5,907.6L880.5,911.7L881.4,915.7L882.2,919.8L882.9,923.8L883.5,927.8L884.1,931.9L884.6,936.1L885.1,940.3L885.6,944.6L886.1,949.0L886.7,953.8L887.2,958.8L887.8,964.1L888.4,969.3L888.9,974.5L889.4,979.4L889.8,983.9L890.2,987.9L890.4,991.3L890.6,994.1L890.7,996.7L890.8,998.9L890.8,1001.0L890.8,1003.0L890.8,1005.2L890.9,1007.4L891.0,1009.8L891.1,1012.2L891.1,1014.5L891.2,1016.9L891.3,1019.2L891.3,1021.6L891.4,1023.9L891.4,1026.2L891.5,1028.7L891.5,1031.4L891.6,1034.1L891.6,1036.8L891.6,1039.3L891.6,1041.6L891.7,1043.6L891.7,1045.0"/>
<path d="M23.0,1017.0L36.6,1024.1L49.9,1029.6L62.8,1032.9L75.2,1035.3L87.4,1037.0L99.1,1038.3L110.5,1039.1L121.5,1039.3L132.2,1039.0L142.5,1038.4L152.5,1037.4L162.2,1036.2L175.4,1034.1L189.6,1031.1L203.8,1027.4L217.6,1022.8L231.0,1017.2L243.6,1011.1L255.6,1004.8L266.8,998.7L277.2,993.1L286.9,987.8L295.8,982.1L304.0,975.8L311.5,968.9L318.3,962.4L324.6,956.7L330.3,952.0L335.5,948.3L340.2,945.1L344.6,942.4L348.5,940.1L352.1,938.1L355.4,936.3L358.4,934.9L361.1,933.7L363.6,932.9L365.8,932.3L367.8,931.9L369.6,931.5L371.2,931.2L372.6,930.9L373.9,930.6L375.0,930.4L375.9,930.2L376.7,930.1L377.4,930.0L378.0,929.9L378.5,929.8L378.9,929.8L379.3,929.7L379.7,929.7L380.0,929.6L380.4,929.6L380.8,929.5L381.2,929.5L381.8,929.4L382.6,929.3L383.5,929.2L385.0,929.0L387.7,928.5L391.4,928.0L395.7,927.4L400.5,926.7L405.6,925.8L410.7,924.8L415.5,923.5L420.0,922.0L424.1,920.3L428.0,918.4L431.8,916.4L435.5,914.1L439.3,911.7L443.3,909.0L447.4,906.1L451.8,903.0L456.5,899.5L461.5,895.7L466.8,891.5L472.1,887.2L477.4,882.8L482.7,878.4L487.8,874.1L492.7,870.0L497.2,866.2L501.4,862.6L505.5,859.1L509.4,855.6L513.5,852.1L517.6,848.3L522.1,844.4L527.0,840.0L532.2,835.2L537.4,830.1L542.9,824.7L548.5,819.2L554.5,813.5L560.8,807.9L567.5,802.4L574.6,797.0L582.4,791.6L591.0,785.9L600.0,780.2L609.3,774.5L618.7,769.1L627.9,764.1L636.8,759.7L645.0,756.0L652.7,753.1L660.2,750.8L667.4,749.0L674.4,747.6L681.2,746.6L687.7,745.9L693.9,745.4L700.0,745.0L705.8,744.8L711.3,744.8L716.5,745.0L721.6,745.6L726.4,746.3L731.1,747.3L735.6,748.5L740.0,750.0L744.3,751.8L748.4,754.1L752.4,756.6L756.2,759.3L759.8,762.2L763.4,765.0L766.7,767.6L770.0,770.0L773.1,772.1L775.9,774.1L778.6,776.1L781.2,777.9L783.7,779.7L786.1,781.6L788.5,783.5L791.0,785.5L793.5,787.6L795.9,789.7L798.4,791.9L800.8,794.0L803.1,796.2L805.4,798.5L807.7,800.7L810.0,803.0L812.2,805.3L814.4,807.6L816.5,809.9L818.6,812.3L820.6,814.7L822.7,817.1L824.8,819.5L827.0,822.0L829.2,824.5L831.4,827.1L833.7,829.7L835.9,832.3L838.2,834.9L840.4,837.6L842.7,840.3L845.0,843.0L847.4,845.7L849.8,848.4L852.4,851.0L854.9,853.7L857.3,856.5L859.7,859.3L861.8,862.3L863.6,865.5L865.1,868.8L866.4,872.3L867.5,875.9L868.5,879.7L869.3,883.4L870.2,887.3L871.0,891.1L872.0,895.0L873.0,898.9L874.1,902.8L875.2,906.8L876.3,910.8L877.3,914.8L878.3,918.9L879.2,922.9L880.0,927.0L880.7,931.0L881.3,935.1L881.8,939.1L882.2,943.1L882.7,947.2L883.1,951.4L883.5,955.6L884.0,960.0L884.5,964.7L885.1,969.6L885.6,974.8L886.2,980.0L886.7,985.1L887.2,989.9L887.6,994.2L888.0,998.0L888.3,1001.1L888.5,1003.8L888.6,1006.0L888.7,1007.9L888.8,1009.7L888.8,1011.4L888.9,1013.1L889.0,1015.0L889.1,1017.0L889.2,1018.9L889.4,1020.8L889.5,1022.6L889.6,1024.5L889.8,1026.3L889.9,1028.1L890.0,1030.0L890.1,1032.0L890.3,1034.1L890.4,1036.3L890.6,1038.4L890.7,1040.5L890.8,1042.3L890.9,1043.8L891.0,1045.0"/>
</g>
<rect x="0" y="600" width="1100" height="520" fill="url(#wfade)"/>
<defs><linearGradient id="wfade2" x1="0" y1="0" x2="0" y2="1"><stop offset="0" stop-color="#fff" stop-opacity="0"/><stop offset="1" stop-color="#fff" stop-opacity="0.95"/></linearGradient></defs>
<rect x="780" y="760" width="320" height="300" fill="url(#wfade2)"/>
<g fill="#000">
<path d="M246.0,472.5L247.4,472.9L249.1,473.3L251.1,473.9L253.4,474.5L255.8,475.2L258.4,475.9L261.2,476.6L263.9,477.3L266.7,478.1L269.5,478.8L272.1,479.5L274.7,480.2L277.1,480.9L279.5,481.5L282.0,482.2L284.5,482.8L286.9,483.5L289.4,484.2L291.9,484.8L294.4,485.5L297.0,486.2L299.6,486.8L302.2,487.5L304.9,488.1L307.6,488.8L310.4,489.5L313.3,490.1L316.1,490.8L319.1,491.5L322.0,492.1L325.0,492.8L327.9,493.4L330.8,494.1L333.7,494.7L336.5,495.3L339.2,495.9L341.9,496.5L344.6,497.1L347.1,497.6L349.7,498.2L352.2,498.7L354.7,499.3L357.3,499.8L359.8,500.3L362.4,500.8L365.0,501.3L367.6,501.7L370.3,502.2L373.1,502.7L375.9,503.1L378.7,503.5L381.6,503.9L384.5,504.3L387.4,504.7L390.3,505.1L393.2,505.5L396.1,505.8L398.9,506.2L401.7,506.5L404.5,506.8L407.2,507.1L409.9,507.4L412.5,507.7L415.2,508.0L417.8,508.3L420.4,508.6L423.0,508.8L425.6,509.1L428.2,509.3L430.8,509.5L433.4,509.8L436.0,510.0L438.6,510.2L441.2,510.4L443.8,510.6L446.3,510.8L448.8,510.9L451.4,511.1L453.9,511.3L456.5,511.4L459.1,511.6L461.8,511.8L464.5,512.0L467.3,512.2L470.2,512.4L473.1,512.6L476.2,512.9L479.3,513.1L482.4,513.3L485.5,513.6L488.7,513.8L491.9,514.1L495.0,514.3L498.1,514.6L501.2,514.8L504.2,515.0L507.2,515.3L510.2,515.5L513.2,515.7L516.2,515.9L519.1,516.1L522.1,516.3L525.0,516.5L527.9,516.7L530.8,516.9L533.6,517.1L536.4,517.3L539.1,517.5L541.9,517.7L544.6,517.9L547.4,518.1L550.1,518.3L552.8,518.5L555.5,518.7L558.1,518.9L560.6,519.1L563.1,519.4L565.4,519.6L567.7,519.8L569.9,520.0L571.9,520.2L573.8,520.4L575.7,520.6L577.4,520.8L579.1,521.0L580.7,521.1L582.2,521.3L583.7,521.5L585.2,521.7L586.6,521.9L588.0,522.2L589.3,522.4L590.7,522.6L592.0,522.9L593.3,523.1L594.5,523.3L595.7,523.6L596.8,523.9L597.9,524.1L599.0,524.4L600.0,524.6L601.1,524.9L602.1,525.2L603.0,525.4L604.0,525.7L604.9,525.9L605.7,526.2L606.5,526.4L607.3,526.7L608.0,526.9L608.7,527.2L609.4,527.4L610.1,527.7L610.7,527.9L611.3,528.2L611.8,528.5L612.4,528.7L612.9,529.0L613.3,529.2L613.8,529.5L614.2,529.8L614.6,530.0L615.0,530.3L615.3,530.6L615.7,530.9L616.1,531.2L616.5,531.5L616.9,531.8L617.3,532.2L617.6,532.5L617.9,532.8L618.3,533.1L618.6,533.5L618.9,533.8L619.2,534.2L619.5,534.5L619.9,534.9L620.2,535.3L620.5,535.7L620.8,536.2L621.1,536.6L621.4,537.0L621.7,537.4L622.0,537.9L622.3,538.3L622.6,538.8L622.9,539.3L623.2,539.8L623.5,540.3L623.8,540.9L624.2,541.5L624.5,542.2L624.9,542.8L625.2,543.5L625.6,544.2L625.9,544.9L626.3,545.7L626.7,546.4L627.0,547.2L627.4,547.9L627.7,548.7L628.0,549.5L628.3,550.2L628.6,551.0L628.9,551.8L629.2,552.6L629.5,553.4L629.8,554.2L630.0,555.1L630.3,555.9L630.5,556.8L630.8,557.6L631.0,558.5L631.2,559.3L631.5,560.1L631.7,561.0L631.9,561.8L632.1,562.6L632.2,563.4L632.4,564.2L632.6,565.0L632.7,565.8L632.9,566.5L633.0,567.3L633.2,568.1L633.3,568.9L633.4,569.7L633.5,570.5L633.6,571.2L633.7,572.0L633.7,572.8L633.8,573.5L633.8,574.3L633.9,575.1L633.9,575.9L634.0,576.7L634.0,577.5L634.0,578.3L634.0,579.1L634.0,579.9L634.0,580.7L634.0,581.5L633.9,582.4L633.9,583.2L633.9,584.1L633.8,585.0L633.7,585.8L633.7,586.7L633.6,587.6L633.5,588.4L633.4,589.2L633.3,590.1L633.3,590.9L633.1,591.7L633.0,592.5L632.9,593.3L632.8,594.1L632.7,594.9L632.5,595.7L632.4,596.4L632.3,597.1L632.1,597.8L632.0,598.5L631.8,599.1L631.7,599.7L631.6,600.3L631.4,600.8L631.3,601.3L631.2,601.8L631.0,602.2L630.9,602.7L630.7,603.2L630.5,603.7L630.3,604.3L630.1,604.9L629.9,605.4L629.6,606.0L629.4,606.5L629.2,607.1L628.9,607.6L628.7,608.2L628.4,608.8L628.1,609.4L627.7,610.0L627.4,610.7L627.0,611.4L626.7,612.2L626.3,613.0L625.9,613.8L625.5,614.7L625.0,615.5L624.6,616.4L624.2,617.3L623.7,618.3L623.3,619.2L622.8,620.1L622.3,621.1L621.9,622.0L621.4,622.9L620.9,623.8L620.5,624.7L620.0,625.6L619.5,626.5L619.0,627.4L618.5,628.3L618.0,629.2L617.5,630.1L617.0,631.0L616.5,631.9L616.0,632.8L615.5,633.7L615.0,634.5L614.5,635.3L613.9,636.2L613.4,637.0L612.8,637.8L612.3,638.6L611.7,639.4L611.1,640.2L610.6,641.0L610.0,641.8L609.4,642.6L608.8,643.5L608.2,644.3L607.6,645.1L607.0,645.8L606.3,646.6L605.7,647.4L605.1,648.2L604.4,649.0L603.8,649.8L603.1,650.6L602.5,651.4L601.9,652.2L601.2,653.0L600.6,653.7L600.0,654.5L599.4,655.3L598.8,656.0L598.2,656.8L597.6,657.5L597.0,658.3L596.4,659.0L595.8,659.8L595.2,660.6L594.6,661.3L594.0,662.1L593.4,662.9L592.9,663.6L592.3,664.4L591.7,665.1L591.2,665.8L590.6,666.6L590.0,667.4L589.4,668.2L588.9,669.0L588.4,669.8L587.8,670.6L587.3,671.5L586.9,672.4L586.5,673.3L586.1,674.2L585.7,675.1L585.4,675.9L585.1,676.8L584.9,677.7L584.6,678.6L584.4,679.5L584.3,680.4L584.1,681.2L584.0,682.1L583.8,682.9L583.8,683.8L583.7,684.6L583.7,685.5L583.7,686.3L583.7,687.1L583.8,687.9L583.8,688.7L583.9,689.5L584.0,690.3L584.2,691.1L584.3,691.9L584.4,692.6L584.6,693.4L584.8,694.3L585.0,695.1L585.2,695.9L585.4,696.7L585.7,697.4L585.9,698.2L586.2,699.0L586.5,699.8L586.8,700.6L587.1,701.3L587.4,702.1L587.7,702.9L588.0,703.7L588.3,704.4L588.7,705.2L589.0,706.0L589.4,706.7L589.7,707.5L590.1,708.3L590.5,709.0L590.9,709.8L591.3,710.5L591.7,711.3L592.1,712.1L592.5,712.8L593.0,713.6L593.4,714.4L593.9,715.2L594.3,715.9L594.8,716.7L595.3,717.5L595.8,718.3L596.3,719.1L596.8,719.8L597.4,720.6L597.9,721.3L598.5,722.0L599.1,722.8L599.7,723.5L600.3,724.2L600.9,724.9L601.5,725.6L602.2,726.3L602.8,726.9L603.5,727.6L604.2,728.2L604.9,728.9L605.6,729.5L606.4,730.1L607.1,730.7L607.9,731.3L608.7,731.8L609.5,732.4L610.2,732.9L611.0,733.4L611.8,733.9L612.6,734.4L613.3,734.8L614.0,735.2L614.8,735.6L615.6,735.9L616.3,736.2L617.1,736.5L617.9,736.8L618.6,737.0L619.3,737.2L620.0,737.4L620.6,737.6L621.2,737.7L621.6,737.9L622.0,738.0L622.0,738.0L621.7,737.8L621.3,737.5L620.8,737.2L620.2,736.9L619.7,736.5L619.0,736.1L618.4,735.7L617.7,735.3L617.1,734.8L616.4,734.3L615.8,733.9L615.2,733.4L614.5,732.9L613.9,732.4L613.2,731.9L612.5,731.3L611.8,730.8L611.1,730.2L610.4,729.6L609.7,729.0L609.0,728.4L608.3,727.8L607.7,727.2L607.1,726.5L606.5,725.9L606.0,725.3L605.4,724.6L604.8,723.9L604.3,723.2L603.8,722.5L603.3,721.8L602.8,721.1L602.3,720.4L601.8,719.7L601.3,718.9L600.8,718.2L600.4,717.5L600.0,716.8L599.5,716.0L599.1,715.3L598.7,714.5L598.3,713.7L597.9,713.0L597.6,712.2L597.2,711.4L596.8,710.6L596.4,709.9L596.1,709.1L595.7,708.3L595.4,707.6L595.0,706.8L594.7,706.1L594.4,705.4L594.1,704.6L593.8,703.9L593.5,703.2L593.2,702.5L592.9,701.7L592.7,701.0L592.4,700.3L592.2,699.6L592.0,698.8L591.8,698.1L591.6,697.4L591.4,696.6L591.2,695.9L591.1,695.2L590.9,694.5L590.8,693.8L590.7,693.1L590.6,692.4L590.6,691.8L590.5,691.1L590.5,690.4L590.4,689.7L590.4,689.1L590.4,688.4L590.5,687.8L590.5,687.2L590.6,686.5L590.6,685.9L590.7,685.3L590.8,684.7L591.0,684.1L591.1,683.4L591.3,682.7L591.5,682.1L591.7,681.4L591.9,680.7L592.1,680.0L592.4,679.3L592.7,678.6L593.0,678.0L593.3,677.3L593.6,676.6L593.9,676.0L594.3,675.4L594.6,674.7L595.1,674.1L595.5,673.4L596.0,672.8L596.5,672.1L597.0,671.4L597.5,670.7L598.1,670.0L598.6,669.2L599.2,668.5L599.8,667.7L600.3,667.0L600.9,666.3L601.5,665.6L602.1,664.9L602.7,664.1L603.3,663.4L603.9,662.7L604.5,661.9L605.1,661.2L605.7,660.4L606.4,659.6L607.0,658.9L607.6,658.1L608.2,657.3L608.9,656.5L609.5,655.7L610.1,654.9L610.8,654.1L611.4,653.3L612.1,652.5L612.7,651.6L613.4,650.8L614.0,650.0L614.6,649.1L615.3,648.3L615.9,647.5L616.5,646.7L617.1,645.9L617.7,645.1L618.3,644.2L619.0,643.4L619.6,642.6L620.2,641.7L620.8,640.8L621.4,640.0L622.0,639.1L622.6,638.2L623.2,637.3L623.8,636.4L624.4,635.5L625.0,634.6L625.6,633.7L626.1,632.7L626.7,631.8L627.2,630.9L627.8,630.0L628.3,629.1L628.9,628.2L629.4,627.3L630.0,626.4L630.5,625.4L631.0,624.5L631.6,623.6L632.1,622.6L632.6,621.7L633.1,620.8L633.6,620.0L634.0,619.2L634.5,618.4L634.9,617.6L635.3,616.9L635.7,616.3L636.1,615.6L636.5,615.0L636.9,614.4L637.3,613.8L637.7,613.2L638.1,612.6L638.4,611.9L638.8,611.3L639.2,610.6L639.5,610.0L639.9,609.3L640.2,608.8L640.5,608.2L640.8,607.6L641.1,607.0L641.4,606.3L641.7,605.7L641.9,605.0L642.2,604.3L642.5,603.6L642.7,602.9L643.0,602.1L643.2,601.3L643.4,600.4L643.6,599.6L643.8,598.7L644.0,597.9L644.2,597.0L644.3,596.1L644.5,595.2L644.6,594.3L644.8,593.4L644.9,592.4L645.1,591.5L645.2,590.6L645.3,589.7L645.4,588.7L645.5,587.8L645.6,586.8L645.7,585.9L645.7,584.9L645.8,583.9L645.9,583.0L645.9,582.0L646.0,581.1L646.0,580.1L646.0,579.2L646.0,578.3L646.1,577.4L646.1,576.5L646.0,575.6L646.0,574.6L646.0,573.7L646.0,572.8L645.9,571.9L645.9,571.0L645.8,570.1L645.7,569.1L645.6,568.2L645.5,567.3L645.4,566.4L645.3,565.5L645.2,564.5L645.0,563.6L644.9,562.7L644.7,561.8L644.5,560.8L644.3,559.9L644.1,559.0L643.9,558.0L643.7,557.1L643.5,556.2L643.2,555.2L643.0,554.2L642.7,553.3L642.4,552.3L642.1,551.3L641.8,550.4L641.5,549.4L641.2,548.5L640.9,547.5L640.6,546.6L640.2,545.7L639.9,544.7L639.5,543.8L639.1,542.9L638.7,542.0L638.4,541.1L638.0,540.2L637.6,539.4L637.2,538.6L636.8,537.8L636.5,537.0L636.1,536.2L635.7,535.5L635.4,534.8L635.0,534.1L634.6,533.4L634.3,532.8L633.9,532.1L633.5,531.4L633.1,530.8L632.7,530.1L632.3,529.5L631.8,528.9L631.4,528.2L630.9,527.6L630.5,527.1L630.0,526.5L629.5,525.9L629.0,525.4L628.5,524.8L628.0,524.3L627.4,523.8L626.9,523.2L626.3,522.7L625.7,522.2L625.1,521.8L624.5,521.3L623.9,520.9L623.4,520.5L622.7,520.0L622.1,519.6L621.4,519.2L620.7,518.8L620.0,518.4L619.3,518.0L618.5,517.7L617.8,517.3L617.0,516.9L616.1,516.6L615.3,516.3L614.5,516.0L613.6,515.7L612.7,515.4L611.8,515.1L610.9,514.8L610.0,514.6L609.0,514.3L608.0,514.1L607.0,513.8L606.0,513.6L604.9,513.3L603.8,513.1L602.7,512.9L601.5,512.7L600.3,512.4L599.1,512.2L597.9,512.0L596.6,511.8L595.3,511.6L593.9,511.4L592.5,511.2L591.1,511.0L589.6,510.8L588.1,510.6L586.6,510.5L585.1,510.3L583.6,510.1L582.0,509.9L580.3,509.8L578.6,509.6L576.8,509.4L575.0,509.2L573.0,509.0L570.9,508.8L568.8,508.6L566.5,508.4L564.1,508.2L561.6,507.9L559.1,507.7L556.4,507.4L553.8,507.2L551.1,506.9L548.3,506.7L545.6,506.4L542.8,506.2L540.1,505.9L537.3,505.7L534.5,505.4L531.7,505.2L528.8,504.9L525.9,504.7L523.0,504.4L520.1,504.2L517.1,503.9L514.1,503.7L511.1,503.4L508.1,503.2L505.2,503.0L502.1,502.7L499.0,502.5L495.9,502.3L492.8,502.1L489.6,501.8L486.4,501.6L483.3,501.4L480.1,501.2L477.0,501.0L474.0,500.8L471.0,500.6L468.1,500.4L465.3,500.2L462.5,500.1L459.8,500.0L457.2,499.8L454.6,499.7L452.0,499.6L449.5,499.5L447.0,499.4L444.4,499.2L441.9,499.1L439.4,499.0L436.8,498.8L434.2,498.6L431.6,498.5L429.1,498.3L426.5,498.1L423.9,497.9L421.4,497.7L418.8,497.5L416.2,497.3L413.5,497.1L410.9,496.8L408.2,496.6L405.5,496.4L402.8,496.1L400.0,495.9L397.2,495.6L394.3,495.4L391.4,495.1L388.5,494.8L385.7,494.6L382.8,494.3L380.0,494.0L377.2,493.7L374.4,493.3L371.7,493.0L369.0,492.6L366.4,492.3L363.9,491.9L361.3,491.5L358.8,491.1L356.3,490.7L353.8,490.3L351.3,489.9L348.7,489.4L346.1,489.0L343.5,488.5L340.8,488.1L338.0,487.6L335.1,487.1L332.3,486.6L329.3,486.1L326.4,485.6L323.4,485.1L320.5,484.6L317.5,484.0L314.6,483.5L311.7,483.0L308.9,482.5L306.1,482.1L303.4,481.6L300.8,481.2L298.1,480.7L295.5,480.3L293.0,479.9L290.4,479.4L287.9,479.0L285.4,478.6L282.9,478.2L280.4,477.8L277.8,477.4L275.3,477.0L272.8,476.6L270.0,476.2L267.2,475.7L264.4,475.3L261.5,474.8L258.7,474.4L256.1,474.0L253.6,473.6L251.2,473.3L249.2,473.0L247.4,472.7L246.0,472.5Z"/>
<path d="M684.9,459.9L643.0,365.5L640.0,366.9L684.5,460.1Z"/>
<path d="M642.9,367.2L643.2,366.7L643.5,366.1L643.8,365.5L644.2,364.8L644.6,364.0L645.0,363.2L645.5,362.4L645.9,361.6L646.4,360.8L646.9,360.0L647.4,359.4L648.0,358.7L648.5,358.1L649.1,357.5L649.7,356.9L650.4,356.3L651.1,355.7L651.8,355.1L652.5,354.5L653.3,353.9L654.1,353.3L655.0,352.7L655.8,352.1L656.7,351.5L657.6,350.9L658.6,350.2L659.6,349.6L660.6,348.9L661.6,348.3L662.7,347.7L663.8,347.0L664.9,346.4L666.0,345.8L667.1,345.2L668.1,344.7L669.2,344.1L670.2,343.7L671.2,343.2L672.3,342.7L673.3,342.3L674.4,341.9L675.4,341.5L676.4,341.1L677.5,340.7L678.5,340.3L679.5,340.0L680.6,339.7L681.6,339.3L682.6,339.0L683.7,338.8L684.7,338.5L685.7,338.2L686.8,338.0L687.8,337.8L688.8,337.6L689.8,337.4L690.9,337.2L691.9,337.0L692.9,336.9L694.0,336.7L695.0,336.6L696.1,336.5L697.1,336.4L698.1,336.3L699.2,336.2L700.2,336.1L701.2,336.0L702.3,336.0L703.3,336.0L704.3,336.0L705.3,336.0L706.3,336.0L707.4,336.1L708.4,336.1L709.4,336.2L710.4,336.3L711.4,336.4L712.4,336.5L713.4,336.6L714.3,336.8L715.3,337.0L716.2,337.2L717.2,337.5L718.2,337.8L719.1,338.1L720.2,338.5L721.2,338.9L722.2,339.3L723.2,339.7L724.3,340.2L725.3,340.7L726.2,341.2L727.2,341.7L728.1,342.3L729.0,342.9L729.9,343.5L730.7,344.2L731.6,344.9L732.4,345.7L733.2,346.5L734.1,347.3L734.9,348.2L735.6,349.1L736.4,350.0L737.1,350.9L737.8,351.8L738.5,352.8L739.1,353.7L739.6,354.6L740.1,355.5L740.7,356.5L741.1,357.5L741.6,358.5L742.0,359.5L742.4,360.6L742.8,361.6L743.1,362.6L743.5,363.6L743.8,364.6L744.0,365.6L744.3,366.5L744.5,367.4L744.7,368.2L744.8,369.1L744.9,369.9L745.0,370.7L745.1,371.5L745.2,372.3L745.2,373.1L745.2,373.9L745.1,374.8L745.1,375.6L745.0,376.4L744.9,377.2L744.7,378.0L744.5,378.9L744.3,379.8L744.1,380.6L743.8,381.5L743.5,382.4L743.2,383.3L742.9,384.1L742.6,385.0L742.2,385.8L741.9,386.6L741.5,387.3L741.1,388.1L740.6,388.8L740.1,389.6L739.6,390.4L739.1,391.2L738.6,391.9L738.0,392.8L737.5,393.6L736.9,394.4L736.3,395.2L735.7,396.0L735.2,396.8L734.6,397.6L733.9,398.4L733.3,399.2L732.6,400.0L731.9,400.9L731.2,401.8L730.5,402.7L729.8,403.6L729.1,404.6L728.5,405.6L727.8,406.7L727.2,407.8L726.5,409.0L725.8,410.2L725.2,411.4L724.6,412.6L724.0,413.7L723.5,414.8L723.0,415.8L722.5,416.7L722.1,417.4L721.9,417.9L729.1,421.7L729.5,421.0L729.8,420.3L730.2,419.4L730.7,418.4L731.2,417.3L731.8,416.2L732.3,415.0L732.9,413.9L733.5,412.7L734.0,411.7L734.6,410.7L735.1,409.8L735.6,409.0L736.2,408.2L736.8,407.4L737.4,406.6L738.0,405.7L738.7,404.9L739.4,404.1L740.0,403.3L740.7,402.4L741.4,401.5L742.1,400.7L742.7,399.8L743.3,398.9L743.9,398.1L744.5,397.2L745.0,396.4L745.6,395.6L746.2,394.7L746.8,393.8L747.3,392.9L747.9,392.0L748.4,391.0L748.9,390.0L749.4,389.0L749.8,388.0L750.2,387.0L750.6,386.0L751.0,384.9L751.3,383.9L751.7,382.8L751.9,381.7L752.2,380.7L752.4,379.6L752.6,378.5L752.8,377.3L752.9,376.2L753.0,375.1L753.0,374.1L753.0,373.0L753.0,371.9L752.9,370.9L752.8,369.8L752.6,368.8L752.4,367.7L752.2,366.7L752.0,365.6L751.7,364.5L751.4,363.4L751.0,362.4L750.6,361.2L750.2,360.1L749.8,358.9L749.3,357.8L748.8,356.6L748.2,355.4L747.7,354.3L747.0,353.1L746.4,351.9L745.7,350.8L744.9,349.7L744.2,348.7L743.4,347.6L742.5,346.6L741.7,345.5L740.8,344.5L739.8,343.5L738.9,342.6L737.9,341.6L736.9,340.7L735.8,339.9L734.8,339.0L733.7,338.3L732.6,337.5L731.5,336.8L730.4,336.2L729.2,335.6L728.0,335.0L726.8,334.5L725.7,334.0L724.5,333.5L723.3,333.1L722.1,332.7L721.0,332.4L719.8,332.0L718.7,331.7L717.5,331.5L716.4,331.3L715.3,331.1L714.1,330.9L713.0,330.8L711.9,330.7L710.8,330.7L709.7,330.6L708.6,330.6L707.5,330.6L706.5,330.6L705.4,330.6L704.3,330.6L703.1,330.6L702.0,330.7L700.9,330.8L699.8,330.8L698.7,330.9L697.6,331.1L696.5,331.2L695.4,331.3L694.3,331.5L693.2,331.7L692.1,331.9L691.0,332.1L690.0,332.3L688.9,332.5L687.8,332.7L686.7,333.0L685.6,333.3L684.5,333.6L683.4,333.9L682.4,334.2L681.3,334.5L680.2,334.9L679.1,335.2L678.0,335.6L677.0,336.0L675.9,336.4L674.8,336.8L673.7,337.3L672.6,337.7L671.6,338.2L670.5,338.7L669.4,339.2L668.3,339.7L667.2,340.3L666.1,340.8L665.0,341.4L663.9,342.0L662.8,342.7L661.6,343.3L660.5,344.0L659.4,344.7L658.3,345.4L657.3,346.1L656.2,346.8L655.3,347.4L654.3,348.1L653.4,348.8L652.5,349.4L651.7,350.1L650.8,350.7L650.0,351.4L649.2,352.0L648.5,352.7L647.7,353.4L647.0,354.1L646.3,354.8L645.7,355.5L645.0,356.3L644.4,357.1L643.8,358.0L643.3,358.9L642.8,359.8L642.3,360.7L641.9,361.6L641.5,362.5L641.1,363.3L640.8,364.0L640.5,364.7L640.3,365.2L640.1,365.6Z"/>
<path d="M723.0,423.1L724.2,424.1L725.7,425.3L727.5,426.7L729.4,428.3L731.6,430.0L733.9,431.9L736.2,433.8L738.6,435.7L740.9,437.6L743.2,439.4L745.4,441.2L747.4,442.8L749.4,444.3L751.2,445.8L753.1,447.2L754.9,448.6L756.7,450.0L758.5,451.4L760.2,452.7L762.0,454.1L763.7,455.5L765.5,456.9L767.2,458.3L769.0,459.7L770.8,461.2L772.6,462.7L774.3,464.2L776.1,465.7L777.9,467.2L779.7,468.7L781.5,470.2L783.3,471.7L785.1,473.3L786.9,474.9L788.7,476.4L790.5,478.0L792.3,479.6L794.2,481.3L796.1,483.1L798.0,484.8L800.0,486.6L801.9,488.3L803.8,490.1L805.6,491.8L807.3,493.4L809.0,495.0L810.6,496.5L812.0,497.9L813.2,499.1L814.3,500.3L815.3,501.3L816.2,502.3L817.0,503.2L817.8,504.1L818.6,505.0L819.4,506.0L820.2,506.9L821.1,508.0L822.1,509.1L823.2,510.2L824.4,511.5L825.6,512.7L826.8,514.0L828.1,515.4L829.4,516.7L830.8,518.1L832.1,519.5L833.5,520.8L834.8,522.2L836.2,523.6L837.5,524.9L838.8,526.3L840.1,527.6L841.4,528.9L842.7,530.2L844.0,531.5L845.4,532.8L846.7,534.1L847.9,535.4L849.2,536.7L850.5,538.0L851.7,539.2L852.8,540.5L854.0,541.7L855.1,542.9L856.2,544.1L857.3,545.3L858.4,546.6L859.4,547.8L860.4,549.0L861.4,550.2L862.4,551.3L863.4,552.5L864.4,553.7L865.3,554.9L866.3,556.1L867.2,557.2L868.1,558.4L869.0,559.5L869.9,560.7L870.7,561.8L871.6,563.0L872.4,564.1L873.2,565.2L874.0,566.3L874.8,567.4L875.5,568.5L876.2,569.6L876.9,570.6L877.6,571.6L878.3,572.7L878.9,573.7L879.5,574.7L880.1,575.7L880.7,576.7L881.2,577.7L881.8,578.7L882.3,579.6L882.8,580.6L883.3,581.5L883.7,582.4L884.2,583.3L884.6,584.2L885.0,585.1L885.4,585.9L885.8,586.8L886.1,587.6L886.5,588.5L886.8,589.3L887.1,590.2L887.4,591.0L887.7,591.8L888.0,592.6L888.3,593.4L888.5,594.2L888.7,594.9L889.0,595.7L889.2,596.4L889.4,597.2L889.6,597.9L889.7,598.6L889.9,599.4L890.1,600.1L890.2,600.8L890.4,601.6L890.5,602.3L890.6,603.0L890.7,603.7L890.8,604.5L890.9,605.2L891.0,605.9L891.1,606.6L891.2,607.3L891.3,608.0L891.3,608.7L891.4,609.4L891.4,610.1L891.5,610.7L891.5,611.3L891.5,611.9L891.5,612.5L891.5,613.1L891.5,613.7L891.5,614.2L891.5,614.8L891.5,615.4L891.5,616.0L891.4,616.7L891.4,617.3L891.3,617.9L891.2,618.6L891.2,619.2L891.1,619.9L891.0,620.5L890.9,621.2L890.8,621.9L890.6,622.6L890.5,623.3L890.3,624.1L890.2,624.8L890.0,625.6L889.8,626.4L889.6,627.3L889.4,628.1L889.2,629.0L888.9,629.9L888.7,630.8L888.4,631.7L888.2,632.6L887.9,633.5L887.6,634.4L887.4,635.3L887.1,636.2L886.8,637.1L886.4,638.1L886.1,639.0L885.8,639.9L885.4,640.9L885.1,641.8L884.7,642.8L884.4,643.7L884.0,644.7L883.7,645.6L883.3,646.5L882.9,647.4L882.5,648.3L882.2,649.2L881.8,650.0L881.4,650.9L881.0,651.8L880.6,652.6L880.2,653.5L879.8,654.4L879.4,655.3L878.9,656.2L878.5,657.1L878.0,658.0L877.6,658.8L877.2,659.7L876.7,660.6L876.2,661.4L875.8,662.3L875.3,663.2L874.8,664.2L874.2,665.1L873.7,666.1L873.1,667.1L872.5,668.2L871.9,669.4L871.3,670.6L870.6,671.8L869.9,673.1L869.1,674.4L868.4,675.7L867.7,677.0L867.0,678.3L866.2,679.6L865.5,680.8L864.8,682.0L864.2,683.2L863.6,684.3L862.9,685.3L862.3,686.3L861.8,687.3L861.2,688.3L860.6,689.3L860.0,690.2L859.4,691.2L858.9,692.1L858.3,693.1L857.7,694.1L857.1,695.1L856.4,696.1L855.8,697.0L855.2,698.0L854.6,699.0L854.0,700.0L853.3,701.0L852.7,702.0L852.1,703.0L851.4,704.0L850.8,705.0L850.1,706.0L849.5,707.1L848.8,708.1L848.2,709.1L847.5,710.1L846.8,711.2L846.1,712.2L845.4,713.3L844.7,714.3L844.0,715.4L843.3,716.4L842.6,717.4L842.0,718.4L841.3,719.4L840.6,720.3L840.0,721.3L839.3,722.2L838.7,723.2L838.1,724.1L837.4,725.0L836.8,725.9L836.2,726.8L835.6,727.7L834.9,728.6L834.3,729.5L833.6,730.4L833.0,731.3L832.3,732.1L831.7,733.0L831.0,733.9L830.3,734.8L829.6,735.7L828.9,736.6L828.3,737.5L827.6,738.4L826.9,739.3L826.2,740.2L825.5,741.1L824.8,741.9L824.2,742.8L823.5,743.7L822.8,744.6L822.1,745.4L821.5,746.3L820.8,747.1L820.1,748.0L819.5,748.9L818.8,749.7L818.1,750.5L817.5,751.4L816.8,752.2L816.2,753.1L815.5,753.9L814.8,754.7L814.2,755.5L813.5,756.3L812.9,757.2L812.2,758.0L811.6,758.8L810.9,759.6L810.2,760.4L809.6,761.3L808.9,762.1L808.2,762.9L807.5,763.8L806.8,764.6L806.2,765.4L805.5,766.3L804.8,767.1L804.1,767.9L803.4,768.8L802.8,769.6L802.1,770.4L801.4,771.2L800.7,772.0L800.1,772.8L799.4,773.6L798.7,774.4L798.0,775.2L797.3,776.0L796.7,776.8L796.0,777.6L795.3,778.4L794.6,779.2L793.9,780.0L793.3,780.8L792.6,781.5L791.9,782.3L791.2,783.1L790.5,783.9L789.9,784.7L789.2,785.5L788.5,786.2L787.8,787.0L787.2,787.8L786.5,788.5L785.8,789.3L785.1,790.1L784.5,790.8L783.8,791.6L783.1,792.4L782.4,793.2L781.7,793.9L781.1,794.7L780.4,795.4L779.7,796.2L779.0,796.9L778.3,797.7L777.7,798.4L777.0,799.2L776.3,799.9L775.7,800.6L775.0,801.3L774.4,802.0L773.7,802.7L773.1,803.4L772.4,804.1L771.7,804.8L771.1,805.5L770.4,806.2L769.7,806.9L769.1,807.6L768.4,808.3L767.7,809.0L767.0,809.7L766.4,810.4L765.7,811.1L765.0,811.8L764.3,812.5L763.6,813.2L762.9,813.9L762.3,814.6L761.6,815.3L760.9,816.0L760.2,816.7L759.5,817.4L758.8,818.0L758.2,818.7L757.5,819.4L756.8,820.1L756.1,820.8L755.4,821.4L754.7,822.1L754.0,822.8L753.3,823.5L752.7,824.2L752.0,824.9L751.3,825.6L750.6,826.2L749.9,826.9L749.2,827.6L748.5,828.3L747.8,829.0L747.1,829.7L746.3,830.3L745.6,831.0L744.9,831.7L744.2,832.4L743.5,833.1L742.7,833.9L741.9,834.6L741.1,835.3L740.3,836.1L739.6,836.8L738.8,837.6L738.0,838.3L737.2,839.0L736.5,839.7L735.8,840.4L735.1,841.0L734.4,841.7L733.7,842.3L733.1,842.9L732.5,843.4L731.9,844.0L731.3,844.5L730.8,845.0L730.2,845.5L729.6,846.0L729.1,846.5L728.5,847.0L727.8,847.6L727.2,848.1L726.5,848.7L725.7,849.4L724.9,850.0L724.1,850.7L723.3,851.3L722.5,851.9L721.8,852.5L721.1,853.1L720.5,853.6L719.9,854.0L719.5,854.4L727.7,864.2L728.1,863.9L728.6,863.5L729.2,863.0L729.9,862.4L730.6,861.8L731.4,861.1L732.2,860.4L733.0,859.7L733.9,859.0L734.7,858.4L735.4,857.7L736.2,857.0L736.8,856.4L737.5,855.8L738.1,855.3L738.7,854.7L739.3,854.1L739.9,853.5L740.5,853.0L741.0,852.4L741.6,851.8L742.3,851.2L742.9,850.6L743.5,850.0L744.2,849.3L745.0,848.6L745.7,847.8L746.5,847.1L747.2,846.3L748.0,845.6L748.8,844.8L749.6,844.0L750.3,843.2L751.1,842.5L751.9,841.7L752.6,841.0L753.3,840.2L754.0,839.5L754.8,838.8L755.5,838.1L756.2,837.4L756.8,836.7L757.5,835.9L758.2,835.2L758.9,834.5L759.6,833.8L760.3,833.1L760.9,832.4L761.6,831.7L762.3,831.0L763.0,830.3L763.7,829.6L764.4,828.9L765.0,828.2L765.7,827.5L766.4,826.8L767.1,826.1L767.7,825.4L768.4,824.7L769.1,824.0L769.8,823.3L770.5,822.6L771.2,821.9L771.9,821.2L772.5,820.5L773.2,819.7L773.9,819.0L774.6,818.3L775.3,817.6L776.0,816.9L776.6,816.1L777.3,815.4L778.0,814.7L778.7,814.0L779.3,813.3L780.0,812.6L780.7,811.9L781.3,811.2L782.0,810.5L782.7,809.8L783.4,809.1L784.0,808.3L784.7,807.6L785.4,806.8L786.1,806.1L786.8,805.3L787.5,804.6L788.2,803.8L788.8,803.0L789.5,802.2L790.2,801.4L790.9,800.7L791.6,799.9L792.3,799.1L793.0,798.3L793.7,797.5L794.3,796.7L795.0,795.9L795.7,795.2L796.4,794.4L797.0,793.6L797.7,792.8L798.4,792.0L799.1,791.2L799.7,790.4L800.4,789.6L801.1,788.8L801.7,788.0L802.4,787.3L803.1,786.5L803.8,785.7L804.5,784.9L805.2,784.1L805.8,783.3L806.5,782.5L807.2,781.7L807.9,780.9L808.6,780.0L809.3,779.2L810.0,778.4L810.7,777.6L811.4,776.7L812.1,775.9L812.8,775.0L813.5,774.2L814.1,773.4L814.8,772.5L815.5,771.7L816.2,770.8L816.9,770.0L817.6,769.2L818.2,768.3L818.9,767.5L819.6,766.7L820.3,765.9L820.9,765.1L821.6,764.2L822.3,763.4L822.9,762.6L823.6,761.8L824.3,760.9L825.0,760.1L825.6,759.3L826.3,758.4L827.0,757.6L827.7,756.7L828.4,755.8L829.0,755.0L829.7,754.1L830.4,753.2L831.1,752.4L831.8,751.5L832.4,750.6L833.1,749.7L833.8,748.8L834.5,747.9L835.2,747.1L835.8,746.2L836.5,745.3L837.2,744.4L837.9,743.5L838.6,742.6L839.3,741.7L840.0,740.7L840.7,739.8L841.4,738.9L842.1,738.0L842.8,737.0L843.4,736.1L844.1,735.2L844.8,734.3L845.4,733.3L846.1,732.4L846.7,731.5L847.4,730.6L848.0,729.6L848.7,728.7L849.4,727.8L850.0,726.8L850.7,725.8L851.4,724.8L852.1,723.8L852.8,722.8L853.5,721.7L854.2,720.7L854.9,719.6L855.6,718.6L856.3,717.5L857.0,716.5L857.7,715.4L858.4,714.4L859.1,713.3L859.8,712.3L860.5,711.3L861.1,710.3L861.8,709.3L862.4,708.3L863.1,707.2L863.7,706.2L864.4,705.2L865.0,704.2L865.7,703.2L866.3,702.2L866.9,701.1L867.6,700.1L868.2,699.1L868.8,698.2L869.4,697.2L869.9,696.2L870.5,695.2L871.1,694.2L871.7,693.2L872.3,692.2L872.9,691.1L873.6,690.0L874.2,688.8L874.9,687.6L875.5,686.4L876.2,685.1L876.9,683.7L877.6,682.4L878.3,681.0L879.0,679.7L879.7,678.3L880.4,677.0L881.0,675.7L881.7,674.5L882.3,673.4L882.8,672.3L883.4,671.2L883.9,670.2L884.4,669.2L884.9,668.3L885.4,667.3L885.8,666.4L886.3,665.5L886.7,664.6L887.2,663.6L887.7,662.7L888.1,661.7L888.6,660.8L889.0,659.9L889.4,658.9L889.9,658.0L890.3,657.1L890.7,656.2L891.1,655.2L891.5,654.3L891.9,653.4L892.3,652.4L892.7,651.5L893.1,650.5L893.5,649.5L893.9,648.5L894.3,647.5L894.7,646.5L895.0,645.5L895.4,644.5L895.8,643.5L896.1,642.5L896.5,641.5L896.8,640.5L897.1,639.5L897.4,638.5L897.8,637.5L898.1,636.6L898.4,635.6L898.6,634.6L898.9,633.7L899.2,632.7L899.5,631.7L899.7,630.8L900.0,629.9L900.2,628.9L900.4,628.0L900.6,627.2L900.8,626.3L901.0,625.5L901.2,624.6L901.3,623.8L901.5,623.0L901.6,622.2L901.7,621.4L901.8,620.6L901.9,619.9L902.0,619.1L902.1,618.3L902.2,617.5L902.2,616.8L902.3,616.0L902.3,615.3L902.4,614.5L902.4,613.8L902.4,613.1L902.4,612.3L902.4,611.6L902.4,610.9L902.3,610.1L902.3,609.4L902.2,608.6L902.2,607.8L902.1,607.0L902.0,606.2L901.9,605.4L901.8,604.6L901.7,603.7L901.6,602.9L901.4,602.0L901.3,601.2L901.1,600.3L901.0,599.4L900.8,598.6L900.6,597.7L900.4,596.9L900.2,596.0L899.9,595.2L899.7,594.3L899.5,593.5L899.2,592.6L898.9,591.7L898.6,590.9L898.3,590.0L898.0,589.1L897.7,588.2L897.3,587.3L897.0,586.4L896.6,585.5L896.3,584.5L895.9,583.6L895.5,582.7L895.1,581.7L894.7,580.7L894.2,579.7L893.7,578.7L893.2,577.7L892.7,576.7L892.2,575.7L891.6,574.6L891.1,573.6L890.5,572.5L889.9,571.5L889.3,570.4L888.7,569.3L888.0,568.2L887.3,567.1L886.6,565.9L885.9,564.8L885.2,563.6L884.4,562.5L883.6,561.3L882.8,560.2L882.0,559.0L881.1,557.8L880.3,556.6L879.4,555.4L878.5,554.2L877.6,553.0L876.6,551.8L875.7,550.6L874.7,549.3L873.8,548.1L872.8,546.9L871.8,545.7L870.8,544.4L869.8,543.2L868.7,542.0L867.6,540.7L866.6,539.4L865.5,538.2L864.3,536.9L863.2,535.6L862.0,534.3L860.8,533.0L859.6,531.7L858.3,530.4L857.0,529.0L855.7,527.7L854.4,526.4L853.1,525.1L851.8,523.8L850.5,522.5L849.2,521.1L847.9,519.8L846.6,518.5L845.3,517.2L844.0,515.9L842.6,514.5L841.3,513.1L839.9,511.8L838.6,510.4L837.2,509.1L835.9,507.7L834.6,506.4L833.4,505.2L832.1,503.9L831.0,502.8L829.9,501.7L829.0,500.7L828.1,499.8L827.3,498.9L826.4,498.0L825.6,497.1L824.7,496.1L823.8,495.2L822.8,494.1L821.6,493.0L820.4,491.8L819.0,490.5L817.5,489.1L815.9,487.6L814.2,486.0L812.3,484.4L810.4,482.7L808.5,481.0L806.5,479.2L804.5,477.5L802.5,475.8L800.6,474.1L798.6,472.4L796.7,470.8L794.9,469.2L793.1,467.7L791.2,466.1L789.4,464.6L787.5,463.0L785.7,461.5L783.8,460.0L782.0,458.5L780.1,457.1L778.3,455.6L776.5,454.1L774.6,452.7L772.8,451.3L770.9,449.9L769.1,448.5L767.3,447.1L765.5,445.8L763.7,444.5L761.9,443.2L760.0,441.8L758.2,440.5L756.3,439.1L754.5,437.7L752.6,436.2L750.5,434.7L748.3,433.0L746.0,431.2L743.7,429.3L741.3,427.4L738.9,425.5L736.6,423.7L734.5,422.0L732.5,420.4L730.7,419.0L729.2,417.8L728.0,416.9Z"/>
<circle cx="726.2" cy="420.3" r="3.7"/>
<circle cx="641.6" cy="366.2" r="1.5"/>
<path d="M722.4,853.1L719.6,853.2L716.2,853.3L712.3,853.4L707.9,853.5L703.2,853.6L698.0,853.8L692.5,853.9L686.6,854.1L680.3,854.2L673.8,854.3L667.0,854.4L659.9,854.5L652.4,854.6L644.4,854.6L635.8,854.6L626.8,854.6L617.5,854.6L607.9,854.6L598.2,854.6L588.4,854.6L578.6,854.6L568.8,854.6L559.3,854.6L549.9,854.7L540.5,854.8L530.5,854.9L520.2,855.1L509.8,855.2L499.3,855.4L489.1,855.6L479.1,855.7L469.6,855.9L460.8,856.0L452.8,856.2L445.8,856.3L439.9,856.4L435.3,856.5L431.8,856.5L429.3,856.6L427.6,856.6L426.6,856.6L426.2,856.6L426.4,856.6L426.7,856.7L426.1,856.6L425.3,856.6L424.5,856.6L423.3,856.6L421.7,856.5L420.1,856.5L418.4,856.5L416.6,856.5L414.9,856.5L413.2,856.5L411.4,856.5L409.8,856.5L408.2,856.4L406.6,856.4L405.2,856.4L404.0,856.4L402.8,856.3L401.7,856.3L400.8,856.2L399.9,856.2L399.0,856.2L398.3,856.1L397.6,856.1L396.9,856.0L396.2,855.9L395.5,855.9L394.8,855.8L394.1,855.7L393.3,855.6L392.6,855.4L392.0,855.3L391.4,855.2L390.8,855.1L390.3,855.0L389.8,854.8L389.3,854.7L388.8,854.5L388.3,854.3L387.7,854.1L387.0,853.8L386.1,853.5L385.2,853.2L384.2,852.8L383.3,852.4L382.3,852.1L381.3,851.6L380.3,851.2L379.4,850.8L378.5,850.4L377.7,850.0L376.9,849.6L376.2,849.2L375.5,848.7L374.7,848.3L374.0,847.8L373.3,847.3L372.5,846.8L371.8,846.3L371.1,845.8L370.3,845.2L369.6,844.6L368.8,844.0L368.0,843.4L367.3,842.7L366.5,842.0L365.8,841.3L365.0,840.6L364.3,839.9L363.5,839.1L362.7,838.3L362.0,837.4L361.2,836.6L360.4,835.7L359.6,834.8L358.8,833.9L358.0,832.9L357.3,832.0L356.5,831.1L355.7,830.1L355.0,829.2L354.2,828.2L353.4,827.2L352.7,826.1L351.9,825.1L351.1,824.0L350.4,822.9L349.6,821.8L348.8,820.7L348.1,819.6L347.3,818.5L346.6,817.3L345.8,816.1L345.0,814.9L344.3,813.6L343.5,812.4L342.8,811.1L342.0,809.8L341.2,808.5L340.5,807.2L339.7,805.9L339.0,804.7L338.3,803.4L337.5,802.1L336.8,800.7L336.1,799.4L335.3,798.0L334.6,796.7L333.9,795.3L333.1,793.9L332.4,792.5L331.6,791.1L330.8,789.7L330.1,788.2L329.3,786.8L328.6,785.4L327.8,783.9L327.0,782.5L326.3,781.0L325.5,779.5L324.7,778.1L324.0,776.6L323.2,775.2L322.4,773.7L321.7,772.3L320.9,770.9L320.2,769.5L319.4,768.0L318.7,766.6L317.9,765.2L317.2,763.7L316.4,762.3L315.6,760.9L314.9,759.5L314.1,758.1L313.4,756.7L312.6,755.3L311.8,754.0L311.1,752.6L310.3,751.3L309.6,750.0L308.8,748.7L308.1,747.4L307.3,746.2L306.6,744.9L305.9,743.7L305.1,742.5L304.4,741.2L303.6,740.0L302.9,738.8L302.1,737.7L301.3,736.5L300.6,735.3L299.8,734.2L299.1,733.0L298.3,731.9L297.6,730.8L296.8,729.7L296.0,728.6L295.3,727.5L294.5,726.5L293.8,725.4L293.0,724.4L292.3,723.5L291.5,722.5L290.8,721.5L290.0,720.6L289.3,719.7L288.5,718.8L287.8,717.9L287.0,717.0L286.3,716.2L285.5,715.3L284.8,714.5L284.0,713.7L283.3,712.9L282.5,712.1L281.8,711.3L281.0,710.6L280.3,709.9L279.5,709.1L278.8,708.4L278.0,707.7L277.2,707.1L276.4,706.4L275.6,705.8L274.8,705.1L274.0,704.5L273.2,703.9L272.4,703.3L271.6,702.8L270.8,702.3L270.0,701.7L269.2,701.3L268.5,700.8L267.7,700.3L267.0,699.9L266.2,699.4L265.5,699.0L264.8,698.6L264.0,698.2L263.3,697.9L262.6,697.5L261.9,697.1L261.1,696.8L260.4,696.5L259.6,696.2L258.9,695.8L258.0,695.5L257.2,695.2L256.3,694.9L255.4,694.6L254.5,694.3L253.6,694.1L252.7,693.8L251.8,693.6L251.0,693.3L250.2,693.1L249.4,692.9L248.6,692.7L247.9,692.5L247.2,692.4L246.5,692.2L245.9,692.1L245.3,692.0L244.8,691.9L244.4,691.9L244.1,691.8L243.7,691.8L243.3,691.7L242.8,691.6L242.2,691.4L241.8,691.4L241.5,691.2L240.7,690.9L239.7,690.6L238.5,690.2L237.2,689.7L235.7,689.2L234.0,688.7L232.2,688.2L230.1,687.7L227.9,687.2L225.4,686.7L222.6,686.2L219.5,685.7L216.3,685.3L212.9,684.9L209.5,684.7L206.0,684.5L202.6,684.4L199.3,684.4L196.2,684.4L193.2,684.5L190.3,684.6L187.5,684.8L184.6,685.0L181.8,685.3L179.0,685.6L176.2,686.0L173.3,686.5L170.3,687.0L167.3,687.7L164.2,688.4L161.0,689.3L157.8,690.2L154.7,691.3L151.5,692.4L148.3,693.6L145.1,694.9L141.9,696.3L138.8,697.8L135.6,699.4L132.6,701.0L129.5,702.8L126.5,704.6L123.5,706.5L120.5,708.5L117.6,710.6L114.7,712.7L111.9,714.9L109.1,717.2L106.3,719.6L103.6,722.0L100.8,724.5L98.1,727.1L95.4,729.8L92.8,732.6L90.3,735.4L87.8,738.3L85.4,741.3L83.0,744.3L80.8,747.4L78.6,750.5L76.5,753.7L74.5,757.0L72.5,760.3L70.7,763.7L68.9,767.1L67.2,770.6L65.6,774.1L64.2,777.6L62.8,781.1L61.6,784.6L60.5,788.2L59.5,791.7L58.7,795.3L57.9,798.8L57.2,802.4L56.6,805.9L56.1,809.5L55.7,813.0L55.4,816.5L55.2,820.0L55.1,823.5L55.1,826.9L55.2,830.3L55.3,833.7L55.5,837.0L55.9,840.4L56.3,843.7L56.8,847.1L57.3,850.4L58.0,853.7L58.8,857.0L59.6,860.3L60.5,863.5L61.5,866.7L62.6,869.9L63.8,873.1L65.1,876.3L66.5,879.5L68.0,882.6L69.6,885.8L71.3,888.9L73.0,892.0L74.9,895.0L76.9,898.0L78.9,900.9L81.1,903.9L83.4,906.8L85.7,909.7L88.2,912.6L90.8,915.5L93.6,918.4L96.5,921.3L99.6,924.2L102.7,926.9L106.0,929.6L109.3,932.2L112.6,934.6L115.9,936.9L119.2,939.0L122.4,940.9L125.7,942.7L128.9,944.4L132.1,946.0L135.3,947.5L138.5,948.9L141.8,950.2L145.1,951.4L148.4,952.6L151.7,953.7L155.2,954.7L158.6,955.6L162.1,956.5L165.6,957.3L169.2,958.0L172.7,958.6L176.2,959.2L179.8,959.6L183.3,959.9L186.8,960.0L190.2,960.1L193.6,960.1L197.0,960.0L200.4,959.7L203.7,959.4L207.0,959.0L210.3,958.6L213.5,958.0L216.6,957.4L219.8,956.7L222.8,956.0L225.9,955.2L229.0,954.3L232.0,953.4L234.9,952.4L237.8,951.3L240.6,950.2L243.3,949.1L246.0,947.9L248.6,946.7L251.1,945.5L253.5,944.2L255.9,942.9L258.2,941.6L260.4,940.3L262.6,938.9L264.7,937.6L266.7,936.2L268.7,934.8L270.6,933.5L272.6,932.1L274.5,930.6L276.5,929.2L278.4,927.7L280.3,926.2L282.0,924.7L283.6,923.4L285.0,922.2L286.1,921.1L287.0,920.3L287.0,920.3L286.1,921.1L284.8,922.0L283.4,923.1L281.7,924.3L279.9,925.6L277.9,927.0L275.9,928.3L273.9,929.7L271.8,931.0L269.8,932.2L267.8,933.5L265.8,934.7L263.7,935.9L261.5,937.2L259.4,938.4L257.1,939.6L254.8,940.8L252.4,941.9L250.0,943.1L247.4,944.1L244.9,945.2L242.2,946.2L239.5,947.2L236.7,948.1L233.8,949.0L230.9,949.9L227.9,950.6L225.0,951.4L221.9,952.0L218.9,952.6L215.8,953.2L212.7,953.6L209.6,954.1L206.5,954.4L203.3,954.7L200.1,954.9L196.8,955.0L193.6,955.1L190.3,955.0L187.0,954.8L183.7,954.6L180.4,954.3L177.0,953.8L173.6,953.3L170.2,952.6L166.8,951.9L163.5,951.1L160.1,950.2L156.8,949.2L153.5,948.1L150.3,947.0L147.1,945.8L144.0,944.6L140.9,943.3L137.9,941.9L134.8,940.4L131.8,938.9L128.8,937.2L125.7,935.4L122.7,933.5L119.6,931.4L116.5,929.2L113.4,926.8L110.3,924.3L107.3,921.7L104.3,919.0L101.5,916.3L98.8,913.5L96.2,910.7L93.7,907.9L91.4,905.1L89.2,902.2L87.2,899.4L85.2,896.6L83.3,893.7L81.5,890.9L79.8,888.0L78.2,885.1L76.6,882.1L75.2,879.2L73.8,876.2L72.5,873.2L71.3,870.2L70.2,867.2L69.1,864.2L68.2,861.2L67.3,858.2L66.5,855.1L65.7,852.0L65.1,848.9L64.6,845.8L64.1,842.6L63.7,839.5L63.4,836.4L63.2,833.2L63.1,830.0L63.0,826.9L63.0,823.6L63.2,820.4L63.4,817.1L63.7,813.8L64.2,810.5L64.7,807.2L65.3,803.9L66.1,800.6L66.9,797.3L67.8,794.0L68.8,790.7L69.9,787.4L71.1,784.2L72.4,780.9L73.8,777.7L75.3,774.4L76.9,771.2L78.6,768.0L80.4,764.9L82.3,761.8L84.3,758.8L86.3,755.8L88.4,752.8L90.5,750.0L92.7,747.2L95.0,744.4L97.4,741.7L99.8,739.1L102.3,736.5L104.8,734.0L107.4,731.5L110.0,729.2L112.6,726.9L115.3,724.7L117.9,722.6L120.6,720.5L123.4,718.5L126.1,716.6L128.9,714.8L131.7,713.0L134.5,711.4L137.3,709.8L140.2,708.3L143.1,706.9L146.0,705.5L149.0,704.2L151.9,703.0L154.9,701.9L157.9,700.9L160.8,699.9L163.8,699.1L166.7,698.3L169.5,697.6L172.3,697.1L175.0,696.6L177.7,696.2L180.3,695.8L182.9,695.5L185.5,695.3L188.1,695.1L190.8,695.0L193.5,694.9L196.3,694.9L199.2,694.9L202.3,695.0L205.5,695.2L208.7,695.4L211.8,695.7L214.9,696.1L217.9,696.6L220.6,697.1L223.2,697.6L225.4,698.1L227.3,698.6L229.1,699.1L230.7,699.6L232.1,700.1L233.4,700.6L234.5,701.0L235.5,701.4L236.4,701.8L237.3,702.1L238.3,702.5L239.4,702.8L240.1,703.0L240.8,703.2L241.4,703.3L242.0,703.4L242.5,703.5L242.9,703.6L243.3,703.7L243.6,703.7L244.0,703.8L244.4,703.9L244.9,704.1L245.5,704.2L246.2,704.4L247.0,704.7L247.7,704.9L248.5,705.1L249.3,705.4L250.1,705.6L250.8,705.9L251.6,706.1L252.3,706.4L252.9,706.6L253.6,706.9L254.2,707.1L254.8,707.4L255.3,707.7L255.9,707.9L256.5,708.2L257.0,708.5L257.5,708.8L258.1,709.1L258.7,709.4L259.2,709.8L259.8,710.1L260.4,710.5L261.1,710.9L261.7,711.4L262.4,711.8L263.0,712.2L263.7,712.7L264.3,713.2L265.0,713.6L265.6,714.1L266.3,714.6L266.9,715.1L267.5,715.7L268.2,716.2L268.8,716.7L269.4,717.3L270.1,717.9L270.7,718.5L271.4,719.1L272.0,719.7L272.6,720.4L273.3,721.0L273.9,721.7L274.6,722.4L275.2,723.1L275.9,723.9L276.5,724.6L277.2,725.4L277.8,726.2L278.5,727.0L279.1,727.8L279.7,728.7L280.4,729.5L281.0,730.4L281.7,731.3L282.4,732.2L283.0,733.2L283.7,734.1L284.3,735.1L285.0,736.1L285.7,737.1L286.3,738.2L287.0,739.3L287.7,740.3L288.4,741.4L289.1,742.6L289.7,743.7L290.4,744.8L291.1,746.0L291.8,747.2L292.5,748.3L293.2,749.5L293.8,750.7L294.5,751.9L295.2,753.2L295.9,754.4L296.6,755.6L297.3,756.9L297.9,758.2L298.6,759.5L299.3,760.8L300.0,762.1L300.7,763.4L301.4,764.8L302.0,766.1L302.7,767.5L303.4,768.9L304.1,770.4L304.8,771.8L305.5,773.2L306.2,774.7L306.9,776.2L307.6,777.6L308.3,779.1L309.0,780.6L309.7,782.0L310.5,783.5L311.2,785.0L311.9,786.4L312.6,787.9L313.4,789.4L314.1,790.9L314.8,792.4L315.5,793.8L316.2,795.3L317.0,796.7L317.6,798.2L318.3,799.6L319.0,801.0L319.7,802.4L320.4,803.9L321.0,805.3L321.7,806.7L322.4,808.2L323.1,809.6L323.8,811.0L324.5,812.5L325.3,813.9L326.0,815.3L326.7,816.6L327.5,818.0L328.2,819.4L329.0,820.8L329.7,822.1L330.5,823.5L331.2,824.8L332.0,826.2L332.8,827.5L333.6,828.8L334.4,830.1L335.2,831.3L336.0,832.6L336.7,833.8L337.5,835.0L338.3,836.2L339.1,837.4L340.0,838.6L340.8,839.8L341.6,840.9L342.4,842.0L343.3,843.2L344.2,844.3L345.0,845.3L345.9,846.4L346.8,847.4L347.7,848.5L348.6,849.5L349.5,850.5L350.4,851.5L351.4,852.5L352.3,853.5L353.3,854.5L354.3,855.4L355.3,856.3L356.3,857.2L357.3,858.0L358.3,858.8L359.4,859.6L360.4,860.4L361.5,861.1L362.5,861.8L363.7,862.5L364.8,863.2L366.0,863.9L367.1,864.5L368.4,865.0L369.7,865.6L371.1,866.1L372.4,866.5L373.8,866.9L375.1,867.3L376.4,867.6L377.7,867.8L378.9,868.0L380.1,868.3L381.2,868.4L382.2,868.6L383.2,868.8L384.2,868.9L385.2,869.1L386.1,869.2L387.0,869.2L387.8,869.3L388.6,869.3L389.3,869.3L390.1,869.3L390.8,869.3L391.5,869.3L392.2,869.3L392.9,869.3L393.7,869.4L394.5,869.4L395.3,869.4L396.0,869.4L396.8,869.5L397.6,869.5L398.5,869.5L399.4,869.6L400.3,869.6L401.3,869.6L402.4,869.6L403.6,869.6L405.0,869.7L406.4,869.7L408.0,869.7L409.6,869.7L411.3,869.7L413.0,869.8L414.8,869.8L416.5,869.8L418.3,869.8L420.0,869.8L421.6,869.8L423.1,869.8L424.3,869.9L424.8,869.9L424.7,869.9L424.4,869.9L425.0,870.0L425.7,870.0L426.5,870.1L427.6,870.1L429.4,870.1L431.9,870.1L435.4,870.1L440.1,870.0L446.0,869.9L453.1,869.8L461.1,869.7L469.9,869.5L479.3,869.4L489.3,869.2L499.6,869.0L510.0,868.9L520.4,868.7L530.7,868.6L540.6,868.4L550.1,868.3L559.4,868.2L568.9,868.1L578.6,868.1L588.4,868.0L598.2,867.9L608.0,867.9L617.5,867.8L626.9,867.8L635.9,867.7L644.4,867.7L652.5,867.6L660.1,867.5L667.2,867.4L674.0,867.3L680.6,867.2L686.8,867.0L692.8,866.9L698.3,866.7L703.5,866.6L708.3,866.5L712.6,866.4L716.5,866.3L719.9,866.2L722.8,866.1Z"/>
<circle cx="722.6" cy="859.7" r="6.5"/>
<path d="M915.2,700.2L917.0,700.3L919.3,700.4L921.9,700.7L924.9,701.0L928.2,701.4L931.5,701.9L934.9,702.5L938.3,703.2L941.5,704.0L944.4,704.8L947.2,705.6L950.0,706.5L952.6,707.5L955.2,708.5L957.9,709.6L960.5,710.7L963.1,711.9L965.8,713.2L968.5,714.6L971.3,716.1L974.2,717.7L977.2,719.5L980.2,721.3L983.2,723.3L986.2,725.4L989.1,727.5L992.0,729.8L994.8,732.1L997.5,734.4L1000.0,736.7L1002.5,739.0L1004.9,741.4L1007.3,743.8L1009.5,746.3L1011.7,748.7L1013.8,751.2L1015.9,753.8L1017.8,756.4L1019.7,759.0L1021.5,761.6L1023.2,764.2L1024.8,766.9L1026.3,769.5L1027.7,772.2L1029.1,774.8L1030.4,777.6L1031.7,780.3L1032.9,783.1L1034.0,786.0L1035.1,788.9L1036.2,792.0L1037.2,795.3L1038.2,798.8L1039.1,802.3L1039.9,805.9L1040.6,809.3L1041.1,812.6L1041.6,815.7L1041.9,818.5L1042.2,820.9L1042.3,822.7L1042.5,824.0L1042.5,824.8L1042.6,825.4L1042.7,825.8L1042.7,826.3L1042.8,826.9L1042.9,827.9L1043.0,829.5L1043.1,831.8L1043.2,834.9L1043.2,838.6L1043.0,842.7L1042.7,847.2L1042.2,852.0L1041.5,856.9L1040.6,861.8L1039.5,866.6L1038.3,871.1L1037.0,875.3L1035.6,879.2L1034.1,883.1L1032.5,886.8L1030.9,890.4L1029.1,893.9L1027.2,897.4L1025.2,900.8L1023.1,904.1L1020.8,907.4L1018.4,910.6L1015.9,913.7L1013.3,916.8L1010.5,919.9L1007.7,922.8L1004.7,925.6L1001.7,928.3L998.6,930.9L995.5,933.3L992.3,935.6L989.1,937.8L986.0,939.8L982.8,941.6L979.6,943.3L976.4,944.9L973.3,946.4L970.0,947.8L966.8,949.0L963.5,950.2L960.2,951.4L956.8,952.4L953.4,953.4L950.0,954.3L946.5,955.1L943.0,955.8L939.5,956.4L936.0,956.9L932.5,957.3L929.0,957.6L925.5,957.8L922.0,957.9L918.5,957.9L915.0,957.8L911.6,957.6L908.2,957.2L904.7,956.8L901.3,956.3L897.8,955.7L894.3,955.1L890.8,954.3L887.2,953.5L883.5,952.5L879.7,951.5L875.8,950.2L871.9,948.9L868.0,947.5L864.2,945.9L860.5,944.3L856.9,942.6L853.5,940.9L850.3,939.2L847.1,937.5L843.9,935.7L840.7,933.8L837.6,931.9L834.6,929.9L831.9,928.1L829.4,926.3L827.2,924.7L825.3,923.2L823.9,922.1L823.8,922.2L825.1,923.5L826.8,925.1L828.9,926.9L831.2,929.0L833.8,931.1L836.6,933.3L839.6,935.5L842.6,937.6L845.8,939.7L848.9,941.6L852.1,943.5L855.5,945.5L859.0,947.3L862.8,949.2L866.6,950.9L870.5,952.5L874.5,954.0L878.4,955.4L882.3,956.6L886.1,957.7L889.7,958.7L893.3,959.6L896.9,960.4L900.5,961.1L904.0,961.7L907.6,962.2L911.1,962.6L914.7,962.9L918.4,963.1L922.0,963.1L925.7,963.1L929.4,962.9L933.1,962.6L936.7,962.2L940.4,961.7L944.0,961.1L947.6,960.4L951.2,959.6L954.8,958.7L958.4,957.7L961.9,956.6L965.3,955.5L968.8,954.3L972.2,953.0L975.5,951.6L978.9,950.1L982.3,948.5L985.6,946.8L989.0,944.9L992.4,942.8L995.7,940.6L999.1,938.2L1002.4,935.7L1005.7,933.1L1009.0,930.3L1012.1,927.3L1015.2,924.3L1018.1,921.2L1021.0,917.9L1023.7,914.6L1026.2,911.3L1028.6,907.8L1030.9,904.3L1033.1,900.8L1035.1,897.2L1037.0,893.4L1038.9,889.6L1040.6,885.7L1042.2,881.7L1043.6,877.5L1045.0,873.1L1046.3,868.3L1047.5,863.2L1048.5,858.0L1049.2,852.9L1049.7,847.8L1050.0,843.1L1050.2,838.7L1050.2,834.8L1050.1,831.6L1050.0,829.1L1049.9,827.4L1049.7,826.2L1049.7,825.4L1049.6,824.9L1049.5,824.5L1049.5,824.1L1049.4,823.3L1049.3,822.0L1049.0,820.1L1048.7,817.6L1048.3,814.7L1047.8,811.5L1047.1,808.0L1046.3,804.4L1045.4,800.7L1044.3,797.1L1043.2,793.5L1042.0,790.0L1040.8,786.8L1039.6,783.7L1038.3,780.8L1037.0,777.9L1035.7,775.0L1034.2,772.2L1032.7,769.4L1031.2,766.7L1029.5,764.0L1027.8,761.3L1025.9,758.5L1024.0,755.9L1022.0,753.2L1019.8,750.6L1017.6,748.0L1015.4,745.5L1013.0,743.0L1010.6,740.5L1008.1,738.1L1005.5,735.8L1002.9,733.5L1000.2,731.2L997.3,728.9L994.3,726.7L991.3,724.5L988.2,722.4L985.0,720.4L981.9,718.5L978.7,716.8L975.6,715.1L972.6,713.6L969.7,712.3L966.8,711.0L964.1,709.8L961.3,708.7L958.6,707.7L955.9,706.7L953.2,705.8L950.4,705.0L947.6,704.2L944.8,703.5L941.7,702.8L938.5,702.2L935.1,701.6L931.6,701.1L928.3,700.7L925.0,700.4L922.0,700.2L919.3,700.1L917.0,700.0L915.2,700.0Z"/>
</g>
<defs>
  <linearGradient id="gBand" x1="0" y1="0" x2="1" y2="0">
    <stop offset="0" stop-color="#e9e9e9" stop-opacity="0"/>
    <stop offset="0.12" stop-color="#e2e2e2"/>
    <stop offset="0.45" stop-color="#d2d2d2"/>
    <stop offset="1" stop-color="#c4c4c4"/>
  </linearGradient>
  <linearGradient id="gPipe" x1="0" y1="0" x2="0" y2="1">
    <stop offset="0" stop-color="#d2d2d2"/>
    <stop offset="0.25" stop-color="#dedede"/>
    <stop offset="0.7" stop-color="#ececec"/>
    <stop offset="1" stop-color="#f6f6f6" stop-opacity="0"/>
  </linearGradient>
  <linearGradient id="gEcu" x1="0" y1="0" x2="0" y2="1">
    <stop offset="0" stop-color="#f3f3f3"/>
    <stop offset="0.6" stop-color="#e9e9e9"/>
    <stop offset="1" stop-color="#d6d6d6"/>
  </linearGradient>
  <linearGradient id="gPin" x1="0" y1="0" x2="1" y2="0">
    <stop offset="0" stop-color="#222"/>
    <stop offset="0.5" stop-color="#777"/>
    <stop offset="1" stop-color="#bbb"/>
  </linearGradient>
  <linearGradient id="gPiston" x1="0" y1="0" x2="1" y2="0">
    <stop offset="0" stop-color="#8a8a8a"/>
    <stop offset="0.3" stop-color="#ededed"/>
    <stop offset="0.6" stop-color="#c9c9c9"/>
    <stop offset="1" stop-color="#8e8e8e"/>
  </linearGradient>
  <linearGradient id="gCyl" x1="0" y1="0" x2="0" y2="1">
    <stop offset="0" stop-color="#fff"/>
    <stop offset="0.5" stop-color="#ddd"/>
    <stop offset="1" stop-color="#888"/>
  </linearGradient>
  <linearGradient id="gCylH" x1="0" y1="0" x2="1" y2="0">
    <stop offset="0" stop-color="#999"/>
    <stop offset="0.4" stop-color="#fff"/>
    <stop offset="1" stop-color="#999"/>
  </linearGradient>
  <radialGradient id="gGear" cx="0.45" cy="0.4" r="0.6">
    <stop offset="0" stop-color="#f2f2f2"/>
    <stop offset="0.6" stop-color="#c8c8c8"/>
    <stop offset="1" stop-color="#8c8c8c"/>
  </radialGradient>
  <linearGradient id="gLogo" x1="0" y1="0" x2="0" y2="1">
    <stop offset="0" stop-color="#4a4a4a"/>
    <stop offset="0.45" stop-color="#111"/>
    <stop offset="1" stop-color="#000"/>
  </linearGradient>
  <linearGradient id="gSwoosh" x1="0" y1="0" x2="1" y2="0">
    <stop offset="0" stop-color="#000"/>
    <stop offset="0.75" stop-color="#1a1a1a"/>
    <stop offset="1" stop-color="#444"/>
  </linearGradient>
  <linearGradient id="gEasy" x1="0" y1="0" x2="0" y2="1">
    <stop offset="0" stop-color="#e02030"/>
    <stop offset="1" stop-color="#a80f1c"/>
  </linearGradient>
  <linearGradient id="gModule" x1="0" y1="0" x2="0" y2="1">
    <stop offset="0" stop-color="#d8d8d8"/>
    <stop offset="0.5" stop-color="#bdbdbd"/>
    <stop offset="1" stop-color="#cfcfcf"/>
  </linearGradient>
  <linearGradient id="gRefl" x1="0" y1="0" x2="0" y2="1">
    <stop offset="0" stop-color="#c8c8c8" stop-opacity="0.7"/>
    <stop offset="1" stop-color="#fff" stop-opacity="0"/>
  </linearGradient>
  <filter id="blur1" x="-20%" y="-20%" width="140%" height="140%"><feGaussianBlur stdDeviation="1.6"/></filter>
  <filter id="blur05" x="-20%" y="-20%" width="140%" height="140%"><feGaussianBlur stdDeviation="0.5"/></filter>

  <!-- connector symbol: 36 x 15, origin at left-middle -->
  <g id="conn">
    <rect x="0" y="-5" width="9" height="10" fill="#fff" stroke="#555" stroke-width="0.9"/>
    <path d="M2.5,-5V5M5,-5V5M7.3,-5V5" stroke="#777" stroke-width="0.7" fill="none"/>
    <rect x="20" y="-4.5" width="16" height="9" rx="1" fill="#fff" stroke="#555" stroke-width="0.9"/>
    <path d="M32.5,-4.5V4.5" stroke="#888" stroke-width="0.7"/>
    <rect x="9" y="-7" width="11.5" height="14" rx="1.6" fill="#fff" stroke="#444" stroke-width="1"/>
    <path d="M9,0H20" stroke="#666" stroke-width="0.8"/>
    <path d="M12.5,-7V7" stroke="#999" stroke-width="0.6"/>
    <path d="M20,-1.6h5v1h-2v1.4h2v1h-5z" fill="#222"/>
  </g>
</defs>

<!-- ================= intake / exhaust band ================= -->
<rect x="296" y="665.5" width="241" height="18.5" fill="url(#gBand)"/>
<path d="M518.5,684 L536.7,684 C537.2,698 536,710 533,720 C530,730 526,737 521.5,742 C516,748 511,752 505.5,755.5 L494,748.5 C499,744 503,739 507,733 C511,727 514,721 515.6,715.6 C518,706 519,696 518.5,684Z" fill="url(#gPipe)"/>
<!-- combustion chamber -->
<path d="M408.5,684 H462 V696 H408.5Z" fill="#dcdcdc"/>
<path d="M414,665.5 L427,678 L435.5,671 L445,678 L457,665.5Z" fill="#c6c6c6"/>
<!-- white flow arrows -->
<g fill="#fff" opacity="0.9">
  <path d="M382,677.6h10v-2.6l6.5,4.2l-6.5,4.2v-2.6h-10z"/>
  <path d="M471,674.8h10v-2.6l6.5,4.2l-6.5,4.2v-2.6h-10z"/>
  <path d="M421,686 q6,1 9,5 l2,-2 l0.5,6.5 l-6.5,-1 l2,-2 q-3,-3 -7.5,-3.5z"/>
  <path d="M452,686 q-6,1 -9,5 l-2,-2 l-0.5,6.5 l6.5,-1 l-2,-2 q3,-3 7.5,-3.5z"/>
  <path d="M528.6,682 q1.2,12 -1.6,22 l2.6,0.6 l-5.2,5.6 l-2.2,-7.2 l2.4,0.5 q2.6,-10 1.6,-21z"/>
</g>

<!-- ================= wires ================= -->
<g fill="none" stroke-linejoin="miter">
  <!-- light blue -->
  <path d="M309.8,551.1 H554 V590.5 H561" stroke="#90c6e0" stroke-width="4.3"/>
  <!-- dark blue -->
  <path d="M309.8,555.4 H547.3 V590.5 H540" stroke="#1c638c" stroke-width="4.2"/>
  <path d="M496,590.5 H506" stroke="#1c638c" stroke-width="3.6"/>
  <!-- light blue to O2 sensor -->
  <path d="M595,590.5 C606,591 614,597 614.5,611 C615,628 606,640 596,648.5 C590,653.5 585,656 579.5,658.3" stroke="#90c6e0" stroke-width="3.2"/>
  <!-- green -->
  <path d="M380,583.5 H321.3 L292.3,599.8 V705 L307.5,722 H344.5 V698" stroke="#1f8c3c" stroke-width="3.6"/>
  <!-- purple -->
  <path d="M348,602 H330.8 L305.3,616.8 V660 H334 Q338.5,660 341,657.5" stroke="#81408e" stroke-width="3.3"/>
  <!-- dark grey -->
  <path d="M493,605 H510.8 V704 L474.5,752 H460" stroke="#565656" stroke-width="3.4"/>
  <path d="M425,752 H412.3 V785.8 H435.8 V804" stroke="#565656" stroke-width="3.4"/>
</g>

<!-- ================= ECU ================= -->
<rect x="392.5" y="571" width="93" height="49" rx="4" fill="#000" opacity="0.75" filter="url(#blur1)"/>
<rect x="482" y="587.5" width="14" height="6.5" fill="url(#gPin)"/>
<rect x="482" y="603" width="12" height="4" fill="url(#gPin)"/>
<rect x="379" y="581.5" width="11.5" height="4" fill="#b5b5b5" stroke="#8a8a8a" stroke-width="0.5"/>
<rect x="373" y="599.8" width="17.5" height="4" fill="#b5b5b5" stroke="#8a8a8a" stroke-width="0.5"/>
<rect x="390" y="567.5" width="92" height="47.5" rx="3.5" fill="url(#gEcu)" stroke="#6c6c6c" stroke-width="1"/>
<text x="397.8" y="597.6" font-size="16.2" font-weight="bold" fill="#858585" stroke="#858585" stroke-width="0.95" textLength="72" lengthAdjust="spacingAndGlyphs">STOCK ECU</text>

<!-- connectors -->
<g transform="translate(275.6,553.2) scale(0.9,1)"><use href="#conn"/></g>
<use href="#conn" x="505" y="590.5"/>
<use href="#conn" x="560" y="590.5"/>
<use href="#conn" x="424.5" y="752"/>
<g transform="translate(347,601.6) scale(0.76,0.95)"><use href="#conn"/></g>

<!-- ================= labels ================= -->
<g font-weight="bold" fill="#959595" stroke="#959595" stroke-width="0.75" lengthAdjust="spacingAndGlyphs">
  <text x="316" y="630.2" font-size="14.2" textLength="58.5" lengthAdjust="spacingAndGlyphs">INJECTOR</text>
  <text x="334" y="740.6" font-size="13.4" textLength="21.5" lengthAdjust="spacingAndGlyphs">TPS</text>
  <text x="527.5" y="634.6" font-size="14.2" textLength="7.5" lengthAdjust="spacingAndGlyphs">O</text>
  <text x="535.3" y="640" font-size="7.5" textLength="3.6" lengthAdjust="spacingAndGlyphs">2</text>
  <text x="541" y="634.6" font-size="14.2" textLength="48" lengthAdjust="spacingAndGlyphs">SENSOR</text>
  <text x="179.5" y="512.6" font-size="12.2" fill="#a8a8a8" stroke="#a8a8a8" stroke-width="0.5" textLength="84" lengthAdjust="spacingAndGlyphs">RAPID BIKE EASY</text>
  <text x="179" y="525.8" font-size="12.2" fill="#a8a8a8" stroke="#a8a8a8" stroke-width="0.5" textLength="84.5" lengthAdjust="spacingAndGlyphs">WIRING HARNESS</text>
</g>

<!-- ================= TPS ================= -->
<g>
  <path d="M331.5,673.7H339.6M349,673.7H357.6" stroke="#222" stroke-width="2.1"/>
  <circle cx="344.3" cy="673.7" r="2.1" fill="#444"/>
  <rect x="331" y="684.8" width="27.5" height="7.4" rx="0.8" fill="#8a8a8a" stroke="#666" stroke-width="0.7"/>
  <rect x="331.6" y="685.3" width="26.3" height="2.4" fill="#a9a9a9"/>
  <rect x="336.4" y="692.2" width="15.8" height="7" fill="#fff" stroke="#555" stroke-width="0.9"/>
</g>

<!-- ================= injector ================= -->
<g transform="translate(351,643) rotate(42.7)">
  <!-- side plug (towards purple wire) -->
  <g transform="translate(6,6)">
    <path d="M-2,0 L3,0 L3,13 L-2,13Z" fill="#fff" stroke="#666" stroke-width="0.8"/>
    <path d="M-0.5,13 L1.8,13 L1.8,17.5 L-0.5,17.5Z" fill="#ddd" stroke="#777" stroke-width="0.6"/>
  </g>
  <rect x="-1" y="-6" width="11" height="12" rx="1" fill="#575757" stroke="#3c3c3c" stroke-width="0.7"/>
  <rect x="-1" y="-6" width="11" height="4" fill="#7a7a7a"/>
  <rect x="10" y="-6.6" width="10" height="13.2" rx="1" fill="#d4d4d4" stroke="#4a4a4a" stroke-width="0.8"/>
  <path d="M13.3,-6.6V6.6M16.6,-6.6V6.6" stroke="#555" stroke-width="0.7"/>
  <rect x="20" y="-5.6" width="4.2" height="11.2" fill="#222"/>
  <rect x="24.2" y="-5" width="16" height="10" fill="url(#gCyl)" stroke="#777" stroke-width="0.6"/>
  <path d="M40.2,-5 L45.5,-2 L48.5,-0.8 L48.5,0.8 L45.5,2 L40.2,5Z" fill="#c9c9c9" stroke="#777" stroke-width="0.6"/>
</g>

<!-- ================= valves ================= -->
<g>
  <!-- left -->
  <g transform="translate(381.4,647.8) rotate(45)">
    <rect x="0" y="-1.6" width="49" height="3.2" fill="#e8e8e8" stroke="#666" stroke-width="0.8"/>
    <path d="M40,-1.6 C46,-2.5 50,-6 51.5,-10.5 L54,-10.5 L54,10.5 L51.5,10.5 C50,6 46,2.5 40,1.6Z" fill="#dcdcdc" stroke="#555" stroke-width="0.8"/>
  </g>
  <!-- right -->
  <g transform="translate(489.6,647.3) rotate(135)">
    <rect x="0" y="-1.6" width="49" height="3.2" fill="#e8e8e8" stroke="#666" stroke-width="0.8"/>
    <path d="M40,-1.6 C46,-2.5 50,-6 51.5,-10.5 L54,-10.5 L54,10.5 L51.5,10.5 C50,6 46,2.5 40,1.6Z" fill="#dcdcdc" stroke="#555" stroke-width="0.8"/>
  </g>
</g>

<!-- ================= spark plug ================= -->
<g transform="translate(435.8,0)">
  <rect x="-2.2" y="633" width="4.4" height="5.5" rx="1" fill="#ddd" stroke="#666" stroke-width="0.7"/>
  <rect x="-3.4" y="638.3" width="6.8" height="18.7" fill="#f4f4f4" stroke="#777" stroke-width="0.7"/>
  <path d="M-3.4,641.5H3.4M-3.4,644.5H3.4M-3.4,647.5H3.4M-3.4,650.5H3.4M-3.4,653.5H3.4" stroke="#999" stroke-width="0.7"/>
  <path d="M-5,657 H5 L6.6,659 V667 L5,669 H-5 L-6.6,667 V659Z" fill="#efefef" stroke="#555" stroke-width="0.8"/>
  <path d="M-2.2,657V669M2.2,657V669" stroke="#999" stroke-width="0.6"/>
  <rect x="-4.2" y="669" width="8.4" height="10.6" fill="#1c1c1c"/>
  <path d="M-4.2,671.5H4.2M-4.2,674H4.2M-4.2,676.5H4.2" stroke="#555" stroke-width="0.6"/>
  <path d="M-2.8,679.6 H2.8 L1.6,684 H-1.6Z" fill="#777"/>
</g>

<!-- ================= piston ================= -->
<g>
  <path d="M408.4,698 Q408.4,695 435,695 Q461.6,695 461.6,698 V726.5 Q461.6,728.3 459.6,728.3 H410.4 Q408.4,728.3 408.4,726.5Z" fill="url(#gPiston)" stroke="#6e6e6e" stroke-width="0.8"/>
  <path d="M408.4,700.2H461.6M408.4,703.4H461.6M408.4,706.6H461.6" stroke="#777" stroke-width="0.8"/>
  <path d="M408.4,698 Q435,701.6 461.6,698" stroke="#888" stroke-width="0.6" fill="none"/>
  <rect x="422.3" y="710.8" width="25.3" height="17.5" fill="#dedede" stroke="#777" stroke-width="0.8"/>
  <circle cx="435" cy="716.6" r="5.6" fill="#9a9a9a"/>
  <circle cx="435" cy="716.6" r="4.2" fill="#1b1b1b"/>
</g>

<!-- ================= O2 sensor ================= -->
<g transform="translate(579.6,658.4) rotate(163.2) scale(1,1.22)">
  <rect x="0" y="-1.3" width="3.5" height="2.6" fill="#bbb" stroke="#666" stroke-width="0.5"/>
  <rect x="3.5" y="-2.7" width="21" height="5.4" fill="url(#gCyl)" stroke="#555" stroke-width="0.7"/>
  <rect x="24.5" y="-2" width="6" height="4" fill="#e6e6e6" stroke="#555" stroke-width="0.7"/>
  <rect x="30.5" y="-4.8" width="5" height="9.6" rx="0.8" fill="#ececec" stroke="#444" stroke-width="0.8"/>
  <rect x="35.5" y="-2.8" width="5.5" height="5.6" fill="#ddd" stroke="#444" stroke-width="0.7"/>
  <path d="M37.3,-2.8V2.8M39.2,-2.8V2.8" stroke="#555" stroke-width="0.5"/>
  <rect x="41" y="-2.2" width="6.5" height="4.4" rx="1" fill="#e2e2e2" stroke="#444" stroke-width="0.7"/>
  <circle cx="44.5" cy="0" r="0.9" fill="#333"/>
</g>

<!-- ================= gear (cam/crank sensor) ================= -->
<g>
  <rect x="432.2" y="802.8" width="6.8" height="3.4" rx="0.8" fill="#111"/>
  <path id="gearp" fill="url(#gGear)" stroke="#8a8a8a" stroke-width="0.6" d="M436.3,806.2 L438.4,806.4 L439.6,808.2 L441.8,807.4 L443.6,808.4 L443.9,810.6 L446.2,810.9 L447.4,812.6 L446.7,814.7 L448.6,816 L448.9,818.1 L447.4,819.7 L448.5,821.7 L447.9,823.7 L445.8,824.5 L445.9,826.8 L444.5,828.3 L442.3,828.1 L441.4,830.2 L439.4,831 L437.5,829.8 L435.8,831.3 L433.7,831.1 L432.5,829.3 L430.3,830 L428.5,828.9 L428.3,826.7 L426,826.3 L424.9,824.5 L425.7,822.4 L423.9,821 L423.7,818.9 L425.3,817.4 L424.3,815.4 L425,813.4 L427.1,812.7 L427.1,810.4 L428.6,808.9 L430.8,809.2 L431.8,807.2 L433.8,806.5 L435.6,807.7Z"/>
  <circle cx="436.4" cy="818.8" r="3.3" fill="#d2d2d2" stroke="#9a9a9a" stroke-width="0.6"/>
  <circle cx="436.4" cy="818.8" r="2" fill="#fff"/>
</g>

<!-- ================= Rapid Bike module ================= -->
<g>
  <!-- floor shadow + reflection -->
  <ellipse cx="205" cy="601" rx="48" ry="3" fill="#dedede" filter="url(#blur1)" opacity="0.8"/>
  <rect x="184" y="583.5" width="78" height="15" fill="url(#gRefl)"/>
  <!-- cable -->
  <path d="M154,566.5 C160,564.5 172,565 187,564.5" stroke="#1e1e1e" stroke-width="8.2" fill="none" stroke-linecap="round"/>
  <path d="M154,565 C161,562.8 172,563.2 186,562.6" stroke="#555" stroke-width="1.6" fill="none" stroke-dasharray="1.4 1.6"/>
  <path d="M155,568.5 C161,566.8 172,567.2 186,566.6" stroke="#444" stroke-width="1.2" fill="none" stroke-dasharray="1.2 1.8"/>
  <!-- white plug -->
  <path d="M261,543.5 L270,541.5 L272.5,545 L272.5,558 L268,563 L261,562Z" fill="#f1efe4" stroke="#dcd9ca" stroke-width="0.7"/>
  <!-- body -->
  <rect x="183.2" y="542.2" width="79.5" height="41.3" rx="1.2" fill="#bdbdbd"/>
  <rect x="183.2" y="543.2" width="79.5" height="2.7" fill="#dcdcdc"/><rect x="183.2" y="547.0" width="79.5" height="1.5" fill="#9c9c9c"/><rect x="183.2" y="549.0" width="79.5" height="2.7" fill="#dcdcdc"/><rect x="183.2" y="552.8" width="79.5" height="1.5" fill="#9c9c9c"/><rect x="183.2" y="554.7" width="79.5" height="2.7" fill="#dcdcdc"/><rect x="183.2" y="558.5" width="79.5" height="1.5" fill="#9c9c9c"/><rect x="183.2" y="560.5" width="79.5" height="2.7" fill="#dcdcdc"/><rect x="183.2" y="564.2" width="79.5" height="1.5" fill="#9c9c9c"/><rect x="183.2" y="566.2" width="79.5" height="2.7" fill="#dcdcdc"/><rect x="183.2" y="570.0" width="79.5" height="1.5" fill="#9c9c9c"/><rect x="183.2" y="572.0" width="79.5" height="2.7" fill="#dcdcdc"/><rect x="183.2" y="575.8" width="79.5" height="1.5" fill="#9c9c9c"/><rect x="183.2" y="577.7" width="79.5" height="2.7" fill="#dcdcdc"/><rect x="183.2" y="581.5" width="79.5" height="1.5" fill="#9c9c9c"/>
  <path d="M189.0,543V583.5M195.0,543V583.5M201.0,543V583.5M207.0,543V583.5M213.0,543V583.5M219.0,543V583.5M225.0,543V583.5M231.0,543V583.5M237.0,543V583.5M243.0,543V583.5M249.0,543V583.5M255.0,543V583.5" stroke="#e9e9e9" stroke-width="0.7" opacity="0.55" fill="none"/>
  <rect x="183.2" y="542.2" width="79.5" height="41.3" rx="1.2" fill="none" stroke="#b0b0b0" stroke-width="0.6"/>
  <!-- recessed panel -->
  <rect x="202.3" y="553.5" width="47" height="26" fill="#c4c4c4" stroke="#e6e6e6" stroke-width="0.8"/>
  <path d="M206,557.5h40M206,560.5h40" stroke="#e0e0e0" stroke-width="1" stroke-dasharray="2 1.4" opacity="0.8"/>
  <!-- label -->
  <rect x="204.8" y="564.4" width="42" height="12.8" fill="#fbfbfb"/>
  <path d="M209,573.8 C214,575.6 224,575.4 229,572.8 C232,571 232,568.2 228,566.6 C231,568.2 230,570.6 227,572 C222,574.2 214,574.6 209,573.8Z" fill="#111"/>
  <text x="208.5" y="572.8" font-size="6.6" font-weight="bold" font-style="italic" fill="#111" stroke="#111" stroke-width="0.3" textLength="19.5" lengthAdjust="spacingAndGlyphs">RAPiD</text>
  <text x="232" y="574.6" font-size="5.8" font-weight="bold" font-style="italic" fill="#c8141f" stroke="#c8141f" stroke-width="0.3" textLength="12.5" lengthAdjust="spacingAndGlyphs">EASY</text>
</g>

<!-- ================= logo ================= -->
<g>
  <path d="M41.6,401 C75,409.5 118,409.8 150,406 C185,401.5 213,390.5 230,379 C241,371 244.5,364 242.5,357.5 C238,345 219,334 195,329.5 C186,327.7 178,326.7 170,326.4 C176,327.8 181,329.8 187,332.5 C203,339.5 217,350 221,360.5 C223.5,368 220,374 213,380 C201,389 182,395 160,399 C125,404.5 78,404.5 41.6,401Z" fill="url(#gSwoosh)"/>
  <g transform="translate(36.5,388) skewX(-14)">
    <text x="0" y="0" font-size="58" font-weight="bold" fill="url(#gLogo)" stroke="#0a0a0a" stroke-width="3.2" stroke-linejoin="round" textLength="166" lengthAdjust="spacingAndGlyphs">RAPiD</text>
  </g>
  <g transform="translate(120.5,399) skewX(-14)">
    <text x="0" y="0" font-size="29" font-weight="bold" fill="#f2f2f2" stroke="#111" stroke-width="3.6" stroke-linejoin="round" paint-order="stroke" textLength="65" lengthAdjust="spacingAndGlyphs">BIKE</text>
  </g>
  <g transform="translate(148.5,430) skewX(-14)">
    <text x="0" y="0" font-size="25.5" font-weight="bold" fill="url(#gEasy)" stroke="#b5121f" stroke-width="2" stroke-linejoin="round" textLength="74" lengthAdjust="spacingAndGlyphs">EASY</text>
  </g>
</g>

<!-- ================= legend ================= -->
<g>
  <rect x="364.3" y="952.1" width="31.7" height="4.1" fill="#8cc1dc"/>
  <rect x="364.3" y="980.8" width="31.7" height="4.1" fill="#1c618a"/>
  <rect x="364.3" y="1009.9" width="31.7" height="4.1" fill="#1d8a38"/>
  <rect x="364.3" y="1039.4" width="31.7" height="4.2" fill="#7e3e8a"/>
  <g font-size="16.4" fill="#1e1e1e" stroke="#1e1e1e" stroke-width="0.4">
    <text x="410.5" y="958.7" textLength="239.5" lengthAdjust="spacingAndGlyphs">Lettura del segnale della sonda lambda *</text>
    <text x="410.5" y="987.9" textLength="289.5" lengthAdjust="spacingAndGlyphs">Segnale modulato della sonda lambda in uscita *</text>
    <text x="410.5" y="1017" textLength="190" lengthAdjust="spacingAndGlyphs">Segnale di apertura della farfalla</text>
    <text x="410.5" y="1046.2" textLength="187.5" lengthAdjust="spacingAndGlyphs">Segnale dell’iniettore di benzina</text>
  </g>
  <text x="365.5" y="1083.5" font-size="11.2" fill="#1e1e1e" stroke="#1e1e1e" stroke-width="0.3" textLength="217.5" lengthAdjust="spacingAndGlyphs">* Fino a due sonde lambda / <tspan font-style="italic">Up to two lambda sensors</tspan></text>
</g>

</svg>
</body></html>
